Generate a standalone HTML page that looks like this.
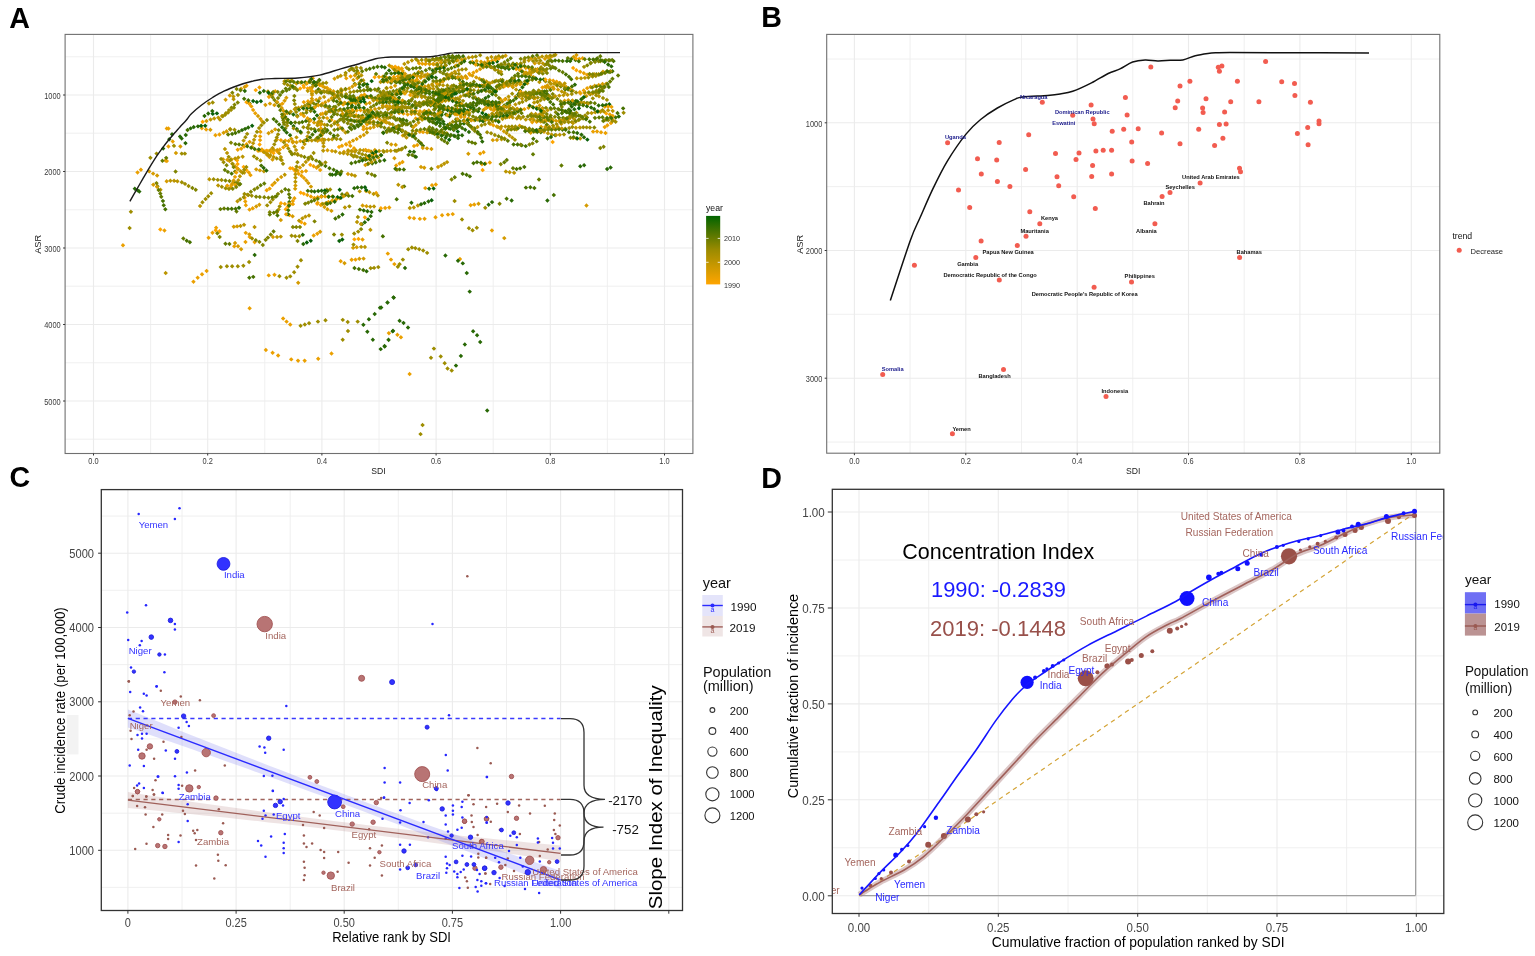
<!DOCTYPE html>
<html><head><meta charset="utf-8"><title>Figure</title>
<style>html,body{margin:0;padding:0;background:#fff;}svg{display:block;font-family:"Liberation Sans", Arial, sans-serif;}</style>
</head><body>
<svg width="1535" height="956" viewBox="0 0 1535 956">
<rect width="1535" height="956" fill="#fff"/>
<text x="9.3" y="27.5" font-size="28.6" fill="#000" font-weight="bold">A</text>
<text x="761.2" y="27.2" font-size="28.6" fill="#000" font-weight="bold">B</text>
<text x="9.6" y="487.2" font-size="28.6" fill="#000" font-weight="bold">C</text>
<text x="761.2" y="487.7" font-size="28.6" fill="#000" font-weight="bold">D</text>
<line x1="150.6" y1="34.4" x2="150.6" y2="453.5" stroke="#eeeeee" stroke-width="0.9"/>
<line x1="264.8" y1="34.4" x2="264.8" y2="453.5" stroke="#eeeeee" stroke-width="0.9"/>
<line x1="379" y1="34.4" x2="379" y2="453.5" stroke="#eeeeee" stroke-width="0.9"/>
<line x1="493.2" y1="34.4" x2="493.2" y2="453.5" stroke="#eeeeee" stroke-width="0.9"/>
<line x1="607.4" y1="34.4" x2="607.4" y2="453.5" stroke="#eeeeee" stroke-width="0.9"/>
<line x1="65.1" y1="56.8" x2="692.9" y2="56.8" stroke="#eeeeee" stroke-width="0.9"/>
<line x1="65.1" y1="133.2" x2="692.9" y2="133.2" stroke="#eeeeee" stroke-width="0.9"/>
<line x1="65.1" y1="209.8" x2="692.9" y2="209.8" stroke="#eeeeee" stroke-width="0.9"/>
<line x1="65.1" y1="286.2" x2="692.9" y2="286.2" stroke="#eeeeee" stroke-width="0.9"/>
<line x1="65.1" y1="362.8" x2="692.9" y2="362.8" stroke="#eeeeee" stroke-width="0.9"/>
<line x1="65.1" y1="439.2" x2="692.9" y2="439.2" stroke="#eeeeee" stroke-width="0.9"/>
<line x1="93.5" y1="34.4" x2="93.5" y2="453.5" stroke="#ebebeb" stroke-width="1.1"/>
<line x1="207.7" y1="34.4" x2="207.7" y2="453.5" stroke="#ebebeb" stroke-width="1.1"/>
<line x1="321.9" y1="34.4" x2="321.9" y2="453.5" stroke="#ebebeb" stroke-width="1.1"/>
<line x1="436.1" y1="34.4" x2="436.1" y2="453.5" stroke="#ebebeb" stroke-width="1.1"/>
<line x1="550.3" y1="34.4" x2="550.3" y2="453.5" stroke="#ebebeb" stroke-width="1.1"/>
<line x1="664.5" y1="34.4" x2="664.5" y2="453.5" stroke="#ebebeb" stroke-width="1.1"/>
<line x1="65.1" y1="95" x2="692.9" y2="95" stroke="#ebebeb" stroke-width="1.1"/>
<line x1="65.1" y1="171.5" x2="692.9" y2="171.5" stroke="#ebebeb" stroke-width="1.1"/>
<line x1="65.1" y1="248" x2="692.9" y2="248" stroke="#ebebeb" stroke-width="1.1"/>
<line x1="65.1" y1="324.5" x2="692.9" y2="324.5" stroke="#ebebeb" stroke-width="1.1"/>
<line x1="65.1" y1="401" x2="692.9" y2="401" stroke="#ebebeb" stroke-width="1.1"/>
<g transform="rotate(45)" stroke-linecap="square" stroke-width="3.1" fill="none">
<path stroke="#ffa500" d="M419.8 -81.3h.1M397.1 -266.8h.1M275.5 48.9h.1M362.3 -82.1h.1M246.5 -102.0h.1M325.8 -87.7h.1M324.1 -86.2h.1M274.8 -149.7h.1M276.5 -153.2h.1M284.0 -52.0h.1M457.2 -357.9h.1M343.6 -135.8h.1M453.3 -357.2h.1M368.4 -80.1h.1M343.6 -234.4h.1M324.2 -168.3h.1M296.1 -82.6h.1M290.3 -54.2h.1M281.0 -54.1h.1M333.2 -170.4h.1M301.6 -85.1h.1M319.4 -210.3h.1M318.7 8.3h.1M415.9 -321.1h.1M385.1 -250.3h.1M283.3 -164.2h.1M294.4 -54.0h.1M285.7 -81.4h.1M396.9 -263.4h.1M380.5 -233.5h.1M347.4 -231.1h.1M350.0 -54.1h.1M508.8 -348.4h.1M275.1 -154.2h.1M330.0 -87.7h.1"/>
<path stroke="#eba000" d="M480.9 -309.5h.1M443.6 -135.6h.1M434.9 -67.8h.1M276.3 -72.4h.1M433.7 -167.7h.1M394.5 41.5h.1M448.0 54.7h.1M375.5 -218.4h.1M287.0 -142.6h.1M291.9 -29.4h.1M503.0 -352.2h.1M336.8 51.1h.1M350.8 -144.6h.1M352.4 -220.2h.1M328.1 -218.5h.1M464.7 -160.4h.1M372.4 -227.8h.1M390.0 -203.7h.1M259.5 -125.9h.1M480.0 -190.7h.1M453.5 -94.9h.1M479.0 -347.6h.1M369.1 -207.3h.1M434.1 -258.9h.1M430.0 24.8h.1M554.1 -25.2h.1M315.8 -31.0h.1M337.5 -88.9h.1M337.4 -229.8h.1M435.4 59.5h.1M335.9 62.4h.1M423.7 -325.4h.1M333.9 -88.3h.1M291.2 -41.1h.1M461.3 -231.4h.1M446.6 -324.0h.1M311.7 -139.8h.1M347.0 -142.7h.1M462.6 -289.9h.1M322.9 -188.0h.1M445.4 -332.1h.1M449.5 -234.3h.1M222.1 -22.1h.1M346.0 -256.0h.1M508.4 -142.1h.1M510.5 -39.4h.1M349.4 -217.8h.1M293.3 -169.2h.1M358.8 -80.9h.1M331.1 -220.8h.1M349.0 -258.4h.1M330.2 -174.1h.1M276.5 -165.8h.1M339.5 -205.1h.1M414.9 -293.2h.1M324.6 -190.8h.1M347.4 -171.5h.1M344.0 -9.0h.1M427.1 -271.0h.1M388.3 -55.3h.1M356.7 -52.5h.1M371.2 -93.0h.1M422.8 -326.1h.1M419.7 -323.7h.1M346.6 -142.6h.1M260.4 86.5h.1M477.8 -187.7h.1M362.4 -82.4h.1M443.3 -288.8h.1M348.4 -165.5h.1M296.8 -169.9h.1M323.1 -54.1h.1M339.2 -104.2h.1M351.2 -8.8h.1M324.9 -216.4h.1M313.8 8.2h.1M322.3 -213.6h.1M412.3 -291.1h.1M324.6 -28.2h.1M388.4 0.2h.1M323.4 -61.7h.1M353.7 -245.9h.1M515.3 -351.3h.1M314.8 -147.8h.1M374.4 -156.3h.1M374.0 -86.3h.1M515.0 -329.2h.1M208.8 -27.1h.1M460.0 -92.9h.1M377.7 -290.4h.1M420.1 -298.4h.1M230.5 -3.5h.1M445.3 -321.7h.1M349.1 -182.8h.1M389.0 -250.6h.1M337.1 -172.3h.1M294.9 -81.7h.1M451.3 -335.9h.1M425.7 -87.0h.1M328.1 -232.3h.1M342.5 -105.2h.1M336.1 56.6h.1M297.7 -54.0h.1M369.4 -253.6h.1M425.5 -56.2h.1M381.9 -237.6h.1M417.0 -318.0h.1M344.9 -138.7h.1M259.2 -130.1h.1M348.7 -240.8h.1M315.6 20.6h.1M337.3 -95.4h.1M396.5 -251.9h.1M437.4 -260.2h.1M347.8 -146.5h.1M397.6 -192.5h.1M303.6 -92.1h.1M245.2 -121.6h.1M438.6 -177.7h.1M355.1 -79.4h.1M402.4 -129.5h.1M294.5 -79.4h.1M231.8 -4.1h.1M233.3 -52.0h.1M390.8 -305.0h.1M465.6 -92.1h.1M383.9 -279.7h.1M351.4 -62.8h.1M300.9 -53.3h.1M289.1 -75.8h.1M371.4 -155.6h.1M335.8 -210.9h.1M399.1 -170.1h.1M318.9 -28.7h.1M512.1 -350.3h.1M280.3 -164.0h.1M346.0 -255.5h.1M376.7 -93.2h.1M294.3 -97.1h.1M447.1 -138.4h.1M471.4 -300.8h.1M348.3 -68.0h.1M443.7 -307.6h.1M468.7 -284.7h.1M219.6 20.4h.1M341.1 -251.6h.1M319.0 -149.5h.1M219.1 24.7h.1M289.4 -146.2h.1M323.0 -150.6h.1M398.2 -166.9h.1M375.0 -89.4h.1M343.1 -207.2h.1M344.2 -174.4h.1M234.9 -113.7h.1M517.7 -44.3h.1M365.5 -204.9h.1M283.4 -165.4h.1M475.1 -344.8h.1M371.6 -226.3h.1M326.6 -190.6h.1M476.4 -344.3h.1M375.8 -266.8h.1M385.2 -279.4h.1M522.2 -334.1h.1M368.0 -81.2h.1M362.1 -202.2h.1M396.0 -189.5h.1M411.1 -245.8h.1M344.6 -2.5h.1M451.6 -142.1h.1M275.6 -65.4h.1M387.2 -286.9h.1"/>
<path stroke="#d59b00" d="M340.1 -77.7h.1M352.1 -211.6h.1M454.6 -333.3h.1M328.9 -167.6h.1M264.1 -117.6h.1M449.1 -263.5h.1M373.0 -243.2h.1M430.8 -289.2h.1M275.9 -48.4h.1M232.6 -16.2h.1M343.6 -227.5h.1M332.2 -185.5h.1M449.9 -297.5h.1M335.7 -179.7h.1M345.2 -195.9h.1M471.6 -287.0h.1M337.8 -181.6h.1M230.0 -95.0h.1M403.5 -254.9h.1M524.9 -188.2h.1M449.3 -326.2h.1M327.7 -7.6h.1M450.5 -269.2h.1M483.0 -300.8h.1M310.3 -151.1h.1M358.6 -270.6h.1M307.9 -197.3h.1M311.8 -137.5h.1M252.0 -64.2h.1M478.4 -307.7h.1M390.2 -62.5h.1M287.8 -153.5h.1M295.7 -30.8h.1M304.2 -63.3h.1M308.7 -135.4h.1M286.0 -103.1h.1M452.6 -329.4h.1M383.2 -216.0h.1M428.2 -322.1h.1M393.9 -123.7h.1M310.4 -188.0h.1M379.0 -221.6h.1M254.0 -71.5h.1M424.9 -74.4h.1M395.5 -314.8h.1M290.2 -77.4h.1M444.9 -263.0h.1M424.4 -320.1h.1M306.9 -175.4h.1M471.2 -285.5h.1M470.5 -299.9h.1M379.8 -237.1h.1M307.5 -146.0h.1M272.0 -123.7h.1M378.5 -221.7h.1M270.3 -45.1h.1M311.9 -155.0h.1M307.7 -106.3h.1M376.2 -145.1h.1M290.2 -150.8h.1M352.3 -171.2h.1M415.1 -247.4h.1M383.7 -296.5h.1M298.3 -79.3h.1M452.1 -301.0h.1M271.4 -99.6h.1M382.2 -177.4h.1M333.4 -194.2h.1M374.3 -239.2h.1M360.4 -224.2h.1M401.7 -213.7h.1M302.3 -157.7h.1M325.1 -166.2h.1M422.9 -333.3h.1M325.5 -5.0h.1M354.1 -43.0h.1M280.1 -48.5h.1M386.8 -298.5h.1M324.5 -178.5h.1M349.9 -178.2h.1M385.3 -274.8h.1M380.4 -100.0h.1M448.0 -324.6h.1M420.9 -319.2h.1M376.6 -244.8h.1M461.1 -297.2h.1M281.4 -156.8h.1M404.0 -216.2h.1M390.1 -298.4h.1M337.4 -195.7h.1M432.5 -333.7h.1M340.0 -218.7h.1M450.3 -252.4h.1M381.7 -234.1h.1M350.3 -168.3h.1M450.8 -326.6h.1M439.9 -74.2h.1M472.3 -293.0h.1M385.5 -256.3h.1M309.8 -151.0h.1M338.0 5.6h.1M473.6 -303.2h.1M371.2 -260.3h.1M354.8 -249.8h.1M430.0 -350.1h.1M482.4 -312.8h.1M312.6 -154.9h.1M370.0 -280.5h.1M470.5 -364.8h.1M371.2 -159.0h.1M334.4 -150.6h.1M455.3 -303.5h.1M300.4 -171.3h.1M337.8 -125.3h.1M240.5 -57.0h.1M264.4 -100.4h.1M370.7 -285.1h.1M359.0 -264.8h.1M268.5 -150.5h.1M292.1 -180.9h.1M518.7 -348.5h.1M373.9 -96.2h.1M427.0 -77.4h.1M320.3 -134.1h.1M261.8 -113.5h.1M425.5 -323.1h.1M385.6 -225.1h.1M435.3 -283.8h.1M401.1 -280.3h.1M233.2 -107.7h.1M238.9 22.2h.1M282.2 -74.3h.1M321.3 -176.9h.1M419.8 -319.0h.1M327.4 -229.7h.1M481.2 -359.9h.1M297.4 -85.1h.1M348.2 -216.5h.1M453.5 -271.7h.1M342.3 -188.1h.1M424.2 -270.1h.1M446.5 -368.7h.1M477.8 -291.5h.1M318.5 -109.6h.1M342.2 -75.2h.1M295.8 -168.3h.1M425.2 -304.6h.1M381.3 -225.1h.1M253.1 -67.4h.1M456.3 -278.6h.1M275.5 -122.9h.1M428.9 -274.4h.1M326.7 -129.7h.1M369.0 -123.0h.1M294.2 -153.0h.1M472.6 -331.0h.1M284.0 -95.7h.1M365.7 -238.5h.1M338.2 -181.7h.1M426.4 -279.9h.1M348.4 -175.0h.1M342.3 5.8h.1M410.3 -199.7h.1M382.3 -223.1h.1M306.5 -193.3h.1M338.2 -214.7h.1M340.1 -224.6h.1M380.4 -272.0h.1M359.0 -236.6h.1M283.8 -48.6h.1M457.9 -331.2h.1M461.8 -338.9h.1M458.7 -338.0h.1M398.9 -211.4h.1M399.4 -277.2h.1M344.3 -89.0h.1M487.3 -355.7h.1M368.6 -284.3h.1M424.9 -276.8h.1M379.5 -83.6h.1M356.4 -185.5h.1M355.8 -142.2h.1M346.8 -245.1h.1M477.0 -375.7h.1M353.8 -264.2h.1M276.4 -51.0h.1M394.6 -283.3h.1M352.9 -184.2h.1M473.2 -303.4h.1M420.2 -250.3h.1M385.6 -293.6h.1M409.7 -247.1h.1M283.0 -123.1h.1M373.4 -213.0h.1M303.9 -173.7h.1M361.4 -234.0h.1M429.3 -275.9h.1M456.1 -307.0h.1M380.7 -189.0h.1M417.8 -248.0h.1M404.4 -244.1h.1M307.2 -107.1h.1M378.7 -174.5h.1M301.5 -79.5h.1M429.6 -57.5h.1M287.3 -167.0h.1M468.1 -296.2h.1"/>
<path stroke="#bb9500" d="M438.0 -280.5h.1M469.2 -340.9h.1M383.9 -246.6h.1M313.6 -200.1h.1M307.7 -65.5h.1M498.2 -338.4h.1M484.4 -309.3h.1M477.5 -373.7h.1M407.9 -293.9h.1M501.9 -344.4h.1M355.2 -141.5h.1M421.9 -340.2h.1M374.4 -293.7h.1M429.8 -198.3h.1M321.6 -229.0h.1M362.2 -265.8h.1M456.6 -273.7h.1M481.4 -342.0h.1M344.6 -191.4h.1M410.1 -221.7h.1M441.3 -275.9h.1M304.5 -82.5h.1M395.6 -269.4h.1M368.2 -59.4h.1M343.6 -111.6h.1M233.4 -64.4h.1M369.2 -243.7h.1M474.2 -291.2h.1M351.9 -199.4h.1M468.6 -358.5h.1M317.5 -161.1h.1M250.9 4.7h.1M398.2 -243.8h.1M487.8 -369.5h.1M482.4 -346.5h.1M338.3 -252.5h.1M235.2 -95.0h.1M414.6 -287.6h.1M286.5 -154.5h.1M412.3 -151.0h.1M298.4 -84.3h.1M345.1 -48.9h.1M372.2 -125.1h.1M339.6 -203.2h.1M284.7 -155.8h.1M466.2 -355.5h.1M331.0 -133.6h.1M301.0 -81.4h.1M338.0 -150.6h.1M332.1 -85.7h.1M314.5 -158.2h.1M431.3 -267.6h.1M389.8 -264.1h.1M431.0 -271.0h.1M437.7 -267.0h.1M425.8 -244.5h.1M304.2 -178.1h.1M397.0 -243.5h.1M317.2 -118.7h.1M233.3 -96.8h.1M392.9 -266.9h.1M405.3 -128.9h.1M440.8 -150.1h.1M480.7 -311.1h.1M357.7 -191.0h.1M462.3 -292.7h.1M432.9 -296.0h.1M462.4 -300.5h.1M391.8 -238.0h.1M418.7 -273.7h.1M369.5 -232.0h.1M427.4 -247.9h.1M401.2 -127.0h.1M366.6 -245.4h.1M372.1 -290.7h.1M413.1 -328.4h.1M306.4 -169.9h.1M278.5 -80.8h.1M353.0 -165.8h.1M385.4 -260.3h.1M434.6 -285.9h.1M438.3 -290.6h.1M369.1 -62.8h.1M465.7 -331.1h.1M384.6 -266.5h.1M361.3 -273.7h.1M390.5 -97.2h.1M287.1 4.2h.1M433.6 -274.7h.1M431.7 -278.8h.1M333.9 -248.5h.1M313.0 -135.9h.1M484.9 -304.2h.1M427.4 -287.6h.1M454.8 -258.9h.1M329.1 -213.7h.1M335.1 -193.0h.1M489.8 -321.8h.1M435.2 -298.9h.1M299.2 -80.1h.1M375.2 -228.5h.1M441.9 -262.3h.1M304.5 -173.5h.1M512.5 -342.5h.1M357.9 -145.3h.1M444.0 -265.1h.1M358.7 -186.2h.1M375.3 -126.7h.1M424.4 -99.4h.1M425.0 -255.8h.1M367.1 -249.9h.1M328.9 -217.3h.1M364.3 -241.7h.1M335.4 -231.0h.1M384.6 -247.8h.1M315.7 -117.9h.1M450.2 -305.1h.1M397.1 -125.3h.1M352.2 -267.6h.1M508.2 -312.3h.1M287.8 -48.8h.1M491.1 -300.5h.1M393.8 -299.3h.1M459.5 -264.9h.1M459.5 -279.8h.1M427.7 -326.1h.1M363.3 -150.8h.1M386.2 -243.6h.1M351.0 -236.9h.1M426.9 -324.8h.1M486.1 -317.8h.1M389.5 -300.8h.1M293.3 -184.4h.1M423.4 -317.9h.1M324.9 -229.6h.1M337.4 -80.3h.1M430.5 -329.3h.1M445.5 -279.4h.1M424.2 -301.0h.1M388.8 -220.9h.1M332.4 -244.5h.1M330.7 -101.7h.1M464.0 -305.6h.1M500.3 -341.5h.1M289.1 -137.8h.1M416.5 -331.1h.1M380.4 -166.9h.1M438.6 -272.7h.1M333.3 -136.4h.1M346.4 -194.7h.1M438.9 -299.4h.1M383.5 -217.3h.1M260.5 -146.9h.1M368.8 -186.7h.1M335.9 -196.7h.1M368.8 -263.8h.1M331.5 -13.6h.1M296.8 -37.1h.1M493.0 -321.2h.1M348.4 -197.7h.1M351.0 -231.5h.1M366.6 -241.7h.1M285.4 -118.4h.1M297.7 -160.6h.1M459.3 -290.4h.1M389.3 -177.9h.1M268.6 -52.4h.1M313.4 -137.6h.1M430.2 -311.0h.1M299.0 -168.7h.1M358.2 -203.1h.1M371.5 -267.6h.1M374.8 -161.3h.1M462.8 -301.3h.1M409.7 -255.3h.1M467.7 -282.3h.1M428.3 -267.7h.1M313.9 -120.9h.1M474.9 -306.2h.1M278.3 -54.2h.1M302.9 -169.0h.1M458.2 -340.3h.1M459.3 -298.2h.1M400.5 -246.2h.1M294.8 -138.8h.1M383.0 -213.8h.1M353.9 -233.0h.1M485.2 -294.9h.1M282.3 -60.8h.1M347.5 -183.9h.1M332.3 -125.3h.1M345.0 -232.8h.1M401.7 -286.4h.1M355.6 -225.2h.1M427.2 -264.0h.1M387.2 -173.8h.1M343.8 -197.7h.1M398.1 -248.1h.1M331.1 -240.7h.1M463.2 -352.5h.1M388.1 -246.4h.1M358.3 -143.7h.1M363.4 -28.3h.1M439.3 -271.2h.1M287.3 -134.9h.1M289.1 -116.6h.1M431.5 -354.0h.1M372.1 -226.4h.1M294.7 -50.5h.1M419.8 -337.0h.1M294.5 -187.4h.1M431.8 -314.0h.1M271.6 -72.8h.1M253.6 2.7h.1M354.2 -238.4h.1M439.2 -145.9h.1M427.9 -291.3h.1M397.6 -300.8h.1M378.8 -156.0h.1M357.3 -204.2h.1M340.5 -19.5h.1M409.1 -249.4h.1M365.8 -31.2h.1M357.2 -187.4h.1M381.4 -240.4h.1M376.4 -242.4h.1M433.7 -282.4h.1M330.8 -105.2h.1M405.3 -287.6h.1M440.7 -303.0h.1M331.3 -230.5h.1M308.8 -202.3h.1M463.1 -327.9h.1M401.9 -302.3h.1M325.4 -186.2h.1"/>
<path stroke="#9e8d00" d="M344.9 32.7h.1M387.8 -176.1h.1M417.9 -304.3h.1M277.3 -161.4h.1M437.3 -278.2h.1M443.3 -306.2h.1M293.7 -69.6h.1M275.9 -157.8h.1M432.8 -301.9h.1M384.5 -254.8h.1M335.0 -222.9h.1M490.7 -318.2h.1M324.3 -127.1h.1M365.3 -96.9h.1M399.7 -308.5h.1M222.9 -77.9h.1M415.8 -290.9h.1M359.1 -206.2h.1M297.5 -166.6h.1M400.4 -15.5h.1M370.7 -262.3h.1M460.2 -365.7h.1M402.4 -274.2h.1M398.9 -6.2h.1M466.3 -116.2h.1M348.7 27.8h.1M441.5 -282.5h.1M340.5 -255.8h.1M239.3 -22.1h.1M557.7 -51.8h.1M482.5 -2.1h.1M311.3 -178.2h.1M438.8 -305.8h.1M452.1 -314.5h.1M493.9 -324.3h.1M350.0 -185.9h.1M324.9 -95.6h.1M335.3 -239.6h.1M429.1 -331.3h.1M294.4 -95.3h.1M337.2 -226.5h.1M346.0 -177.0h.1M369.6 -257.9h.1M268.7 -43.9h.1M356.4 20.1h.1M429.1 -251.9h.1M314.9 -185.5h.1M398.8 -271.3h.1M481.3 -305.8h.1M365.9 -152.7h.1M343.7 -201.8h.1M443.2 -328.2h.1M312.8 -182.4h.1M332.0 -161.5h.1M239.8 -84.1h.1M395.3 -260.7h.1M360.4 -274.7h.1M339.1 -228.4h.1M311.8 -145.6h.1M502.4 -322.4h.1M507.3 -327.0h.1M341.2 -229.0h.1M343.1 -259.4h.1M295.4 -28.3h.1M382.4 -252.2h.1M360.1 -213.3h.1M353.6 -203.6h.1M317.0 -99.8h.1M321.9 -131.1h.1M478.2 -298.3h.1M442.8 -313.1h.1M520.7 -361.2h.1M468.4 -101.3h.1M488.3 -315.6h.1M286.2 -0.1h.1M430.1 -335.1h.1M478.6 -348.2h.1M571.2 -57.6h.1M370.5 -192.9h.1M499.7 -358.5h.1M286.0 -8.5h.1M426.3 -276.5h.1M402.9 -248.5h.1M420.2 -267.9h.1M288.9 -24.8h.1M292.7 -26.4h.1M456.3 -78.6h.1M428.3 -349.6h.1M577.0 -55.9h.1M309.8 -170.0h.1M328.9 -170.6h.1M290.3 -140.9h.1M383.7 -221.4h.1M424.9 -339.2h.1M291.1 -144.2h.1M453.0 -318.1h.1M470.9 -361.3h.1M386.5 -257.5h.1M420.1 -333.8h.1M407.6 -75.8h.1M378.5 -300.5h.1M428.4 -295.9h.1M391.2 -299.0h.1M337.5 -226.7h.1M323.3 -165.9h.1M337.7 -166.9h.1M392.4 -312.9h.1M310.7 -28.9h.1M438.1 -281.6h.1M469.9 -92.7h.1M453.9 -275.0h.1M384.3 -232.8h.1M295.9 -192.9h.1M340.0 -225.8h.1M376.4 -296.5h.1M498.2 -176.1h.1M293.5 -49.3h.1M390.9 -270.7h.1M336.1 -231.5h.1M456.6 -3.7h.1M399.4 -300.8h.1M370.5 -250.8h.1M277.8 -24.3h.1M503.9 -348.2h.1M373.4 -191.4h.1M217.9 5.2h.1M335.0 -223.4h.1M447.0 10.0h.1M484.0 -350.6h.1M431.0 -339.2h.1M402.4 -311.7h.1M391.8 -308.6h.1M288.0 -159.0h.1M446.8 -330.4h.1M291.8 -114.2h.1M355.1 -233.1h.1M333.8 -51.8h.1M450.8 -332.8h.1M304.7 -99.4h.1M380.5 -216.9h.1M281.1 -26.8h.1M435.9 -274.1h.1M449.2 -311.3h.1M416.3 -300.6h.1M306.6 -130.0h.1M296.6 -197.3h.1M417.0 -89.5h.1M440.0 -294.3h.1M444.6 -284.0h.1M432.7 -274.8h.1M334.9 -164.3h.1M392.8 -2.3h.1M404.7 -267.1h.1M339.8 -200.3h.1M380.4 -219.8h.1M368.5 -254.0h.1M313.1 -141.3h.1M272.6 -50.8h.1M563.6 -59.6h.1M332.9 -220.6h.1M355.7 -178.1h.1M488.7 -349.6h.1M280.3 -48.6h.1M332.1 -220.4h.1M359.7 -209.5h.1M362.2 -210.1h.1M242.3 57.2h.1M367.4 -99.5h.1M393.5 -312.8h.1M292.2 -147.5h.1M410.5 -297.5h.1M472.6 -120.2h.1M346.9 -205.1h.1M426.4 -310.1h.1M469.1 -118.2h.1M219.3 -2.1h.1M487.3 -327.8h.1M260.1 -142.0h.1M354.6 -269.9h.1M493.8 -303.7h.1M485.1 -318.9h.1M342.2 -174.9h.1M308.2 -155.8h.1M396.8 -28.8h.1M441.1 -309.8h.1M369.4 -155.2h.1M515.0 -345.2h.1M389.4 -179.2h.1M315.9 -84.3h.1M413.4 -291.1h.1M497.0 -171.3h.1M361.9 -145.6h.1M351.7 -231.9h.1M453.1 -311.3h.1M488.9 -354.2h.1M466.8 -312.7h.1M285.7 -132.8h.1M443.3 -279.2h.1M404.9 -277.0h.1M334.1 -43.7h.1M327.8 -129.8h.1M384.5 -229.2h.1M375.8 -277.6h.1M365.3 -147.1h.1M440.3 -303.5h.1M604.3 9.6h.1M469.3 -95.8h.1M326.4 -164.2h.1M332.6 -230.8h.1M397.6 -251.5h.1M357.0 -205.5h.1M430.8 -352.5h.1M330.6 -202.6h.1M360.4 -139.2h.1M423.3 -274.9h.1M421.8 -303.9h.1M263.1 -149.4h.1M470.4 -284.7h.1M298.2 -200.7h.1M422.9 -77.0h.1M460.2 -322.9h.1M486.1 -324.2h.1M340.8 -231.6h.1M424.2 -307.1h.1M282.0 -134.9h.1M436.0 -278.1h.1M417.1 -294.3h.1M406.3 -234.1h.1M293.2 -164.1h.1M290.9 -162.2h.1M324.9 -155.3h.1M400.4 -267.2h.1M304.1 -132.8h.1M292.6 -52.7h.1M495.6 -335.7h.1M380.4 -256.4h.1M296.0 -91.9h.1M427.8 -329.7h.1M376.7 -272.3h.1M485.9 -357.5h.1M374.0 -270.2h.1M357.4 -240.1h.1M361.4 9.1h.1M490.0 -196.2h.1M493.0 -312.0h.1"/>
<path stroke="#808400" d="M454.0 -333.8h.1M361.8 -260.5h.1M461.5 -280.9h.1M329.6 -166.2h.1M285.2 -115.3h.1M307.6 -127.0h.1M398.7 -306.2h.1M416.7 -252.2h.1M306.7 -118.9h.1M455.5 -290.8h.1M457.3 -324.4h.1M347.7 -264.3h.1M441.7 -309.4h.1M377.0 -203.0h.1M406.8 -238.1h.1M356.7 -267.4h.1M355.4 -226.4h.1M364.6 -177.2h.1M439.8 -280.1h.1M334.5 -143.0h.1M344.4 -216.8h.1M305.5 -167.1h.1M459.6 -320.8h.1M342.4 -233.3h.1M273.6 -103.9h.1M308.0 -199.4h.1M303.5 -173.9h.1M267.4 -145.0h.1M373.5 -235.2h.1M357.4 -21.4h.1M410.6 -281.1h.1M371.9 -147.1h.1M350.1 -205.5h.1M328.2 -144.5h.1M367.6 -46.6h.1M329.5 -50.0h.1M403.7 -301.3h.1M402.1 -212.5h.1M431.4 -271.6h.1M362.3 -206.5h.1M380.3 -193.2h.1M323.6 -196.3h.1M402.0 -70.4h.1M342.7 -184.2h.1M424.4 -185.7h.1M369.2 -197.5h.1M492.5 -321.4h.1M296.2 -137.0h.1M433.2 -278.0h.1M308.3 -174.3h.1M498.1 -332.0h.1M301.6 -152.7h.1M258.1 -124.2h.1M368.2 -262.6h.1M453.0 -269.8h.1M489.1 -365.7h.1M341.4 -232.6h.1M467.2 -306.0h.1M480.1 -321.8h.1M350.7 -11.0h.1M445.6 -315.3h.1M365.3 -196.9h.1M472.8 -317.8h.1M268.9 -3.1h.1M325.9 -198.6h.1M313.6 -131.0h.1M489.1 -361.6h.1M339.9 -230.6h.1M268.3 -123.2h.1M342.0 -173.7h.1M313.3 -165.6h.1M347.1 -233.3h.1M343.7 -236.6h.1M369.3 -219.6h.1M384.1 -199.3h.1M432.1 -243.6h.1M287.5 -44.9h.1M391.7 -273.5h.1M381.6 -254.4h.1M385.5 -224.5h.1M314.3 -176.6h.1M290.3 -34.3h.1M435.8 -331.7h.1M313.0 -41.8h.1M245.4 -2.9h.1M378.9 -65.9h.1M347.9 -264.4h.1M446.8 -308.0h.1M372.6 -51.6h.1M333.6 -59.5h.1M365.6 -280.0h.1M303.4 -168.5h.1M320.1 -42.0h.1M373.6 -243.0h.1M358.1 -270.6h.1M243.0 20.3h.1M366.3 -213.9h.1M460.1 -307.1h.1M479.3 -295.9h.1M430.5 -317.0h.1M375.7 -236.7h.1M497.3 -209.2h.1M419.9 -301.8h.1M488.8 -357.8h.1M300.3 -200.5h.1M293.9 -36.8h.1M333.2 -139.0h.1M298.6 -167.9h.1M350.0 -186.4h.1M372.3 -222.0h.1M339.4 -208.5h.1M457.7 -335.4h.1M352.9 -209.5h.1M366.6 -216.1h.1M333.3 -108.5h.1M361.3 -221.4h.1M363.7 -249.0h.1M461.1 -296.6h.1M361.4 -269.1h.1M357.3 -25.6h.1M436.8 -278.6h.1M317.0 -188.2h.1M471.1 -307.7h.1M472.4 -313.6h.1M461.4 -369.0h.1M407.8 -279.3h.1M361.2 -74.6h.1M261.5 -124.0h.1M483.5 -324.2h.1M315.9 -156.9h.1M337.5 -205.1h.1M362.1 -181.5h.1M370.0 -49.0h.1M496.1 -328.5h.1M431.2 -346.7h.1M448.9 -256.2h.1M359.8 -71.7h.1M441.4 -286.1h.1M361.8 -219.5h.1M361.8 -225.3h.1M463.5 -303.9h.1M410.6 -320.3h.1M487.1 -322.2h.1M296.9 -38.4h.1M366.2 -237.5h.1M393.6 -213.7h.1M294.5 -133.7h.1M298.9 -150.8h.1M455.5 -320.4h.1M417.9 -283.3h.1M488.2 -364.0h.1M338.1 -186.4h.1M462.2 -373.4h.1M378.8 -247.1h.1M441.3 -313.2h.1M477.3 -320.2h.1M340.7 -40.7h.1M390.6 -182.5h.1M464.5 -376.9h.1M400.7 -312.7h.1M370.2 -221.8h.1M341.7 -206.2h.1M485.4 -321.2h.1M357.3 -250.8h.1M239.8 -87.6h.1M312.3 -158.0h.1M392.8 -277.3h.1M280.8 -164.1h.1M477.9 -275.2h.1M462.3 -309.8h.1M349.0 -222.0h.1M376.6 -191.6h.1M340.8 -210.6h.1M339.5 -232.3h.1M389.0 -205.8h.1M273.8 -146.5h.1M455.0 -258.4h.1M329.1 -191.6h.1M306.8 -170.7h.1M457.7 -317.9h.1M356.7 -211.1h.1M442.5 -310.6h.1M361.4 -194.9h.1M230.3 -104.4h.1M358.8 -192.8h.1M383.8 -194.3h.1M319.6 -143.0h.1M375.0 -199.0h.1M479.7 -333.6h.1M345.5 -240.8h.1M489.5 -325.1h.1M350.0 -207.6h.1M371.2 -264.4h.1M477.0 -293.7h.1M311.6 -156.5h.1M440.4 -304.3h.1M359.3 -234.7h.1M319.3 -157.6h.1M366.1 -209.0h.1M304.0 -200.2h.1M386.1 -139.5h.1M438.4 -335.1h.1M275.9 -140.3h.1M400.4 -278.5h.1M398.0 -211.5h.1M264.2 -62.4h.1M326.3 -47.4h.1M335.3 -199.8h.1M325.5 -160.2h.1M381.3 -250.7h.1M415.3 -295.2h.1M380.7 -40.0h.1M432.8 -320.0h.1M391.5 -262.8h.1M409.7 -295.0h.1M336.4 -160.3h.1M355.0 -207.2h.1M406.9 -302.1h.1M282.4 -168.7h.1M345.8 -187.4h.1M529.1 -319.8h.1M309.9 -173.9h.1M329.6 -106.4h.1M467.8 -381.2h.1"/>
<path stroke="#637b00" d="M358.0 -254.1h.1M317.8 -163.3h.1M394.4 -299.8h.1M375.4 -242.9h.1M330.2 -147.5h.1M437.3 -234.6h.1M490.6 -362.0h.1M349.1 -207.2h.1M316.8 -198.5h.1M340.4 -111.4h.1M446.9 -196.2h.1M420.8 -326.2h.1M341.7 -199.2h.1M396.8 -302.3h.1M327.0 -158.3h.1M360.9 -230.9h.1M445.1 -287.5h.1M470.4 -384.5h.1M445.2 -345.4h.1M344.6 -65.1h.1M445.6 -314.5h.1M380.6 -214.7h.1M425.5 -274.8h.1M337.4 -202.4h.1M385.9 -264.8h.1M328.3 -167.2h.1M316.7 -17.7h.1M404.2 -220.5h.1M467.8 -302.4h.1M342.4 -246.2h.1M298.2 -145.2h.1M378.5 -236.3h.1M470.1 -284.2h.1M281.1 -161.8h.1M316.9 -155.3h.1M448.7 -288.8h.1M341.4 -208.1h.1M320.3 -181.6h.1M376.0 -144.1h.1M228.5 -1.2h.1M274.5 -69.1h.1M442.6 -360.4h.1M485.5 -339.7h.1M402.3 -319.9h.1M383.2 -257.5h.1M493.5 -347.6h.1M417.5 -154.0h.1M349.1 -247.3h.1M266.6 -138.5h.1M329.0 -165.6h.1M357.0 -29.8h.1M310.2 -191.6h.1M383.3 -237.1h.1M399.8 -263.7h.1M379.3 -104.5h.1M434.4 -233.0h.1M473.8 -388.6h.1M456.9 -275.5h.1M417.5 -324.2h.1M292.3 -118.9h.1M442.3 -307.2h.1M364.7 -195.2h.1M422.0 -257.2h.1M400.4 -216.6h.1M358.0 -228.6h.1M369.2 -199.0h.1M391.6 -195.9h.1M372.2 -185.9h.1M312.4 -198.5h.1M444.3 -310.7h.1M360.8 -278.7h.1M397.5 -214.4h.1M378.2 -206.6h.1M318.1 -213.6h.1M400.7 -216.9h.1M417.4 -306.7h.1M383.0 -240.6h.1M463.9 -279.4h.1M358.6 -257.3h.1M387.6 -195.1h.1M339.2 -205.3h.1M389.3 -140.8h.1M382.1 -106.3h.1M334.5 -196.0h.1M339.7 -192.7h.1M344.9 -249.0h.1M434.1 -274.2h.1M338.0 -174.5h.1M371.4 -193.0h.1M420.5 -312.7h.1M487.8 -342.3h.1M327.7 -139.3h.1M463.6 -381.2h.1M481.5 -314.8h.1M374.4 -87.1h.1M416.4 -269.0h.1M343.2 -180.9h.1M396.8 -247.6h.1M406.2 -284.2h.1M276.1 -120.3h.1M471.3 -241.9h.1M465.0 -338.4h.1M369.2 -189.5h.1M346.1 -238.6h.1M430.8 -343.9h.1M328.3 -163.5h.1M471.9 -287.6h.1M484.3 -301.3h.1M365.8 -267.7h.1M383.7 -254.0h.1M514.0 -280.0h.1M471.8 -317.6h.1M370.2 -189.3h.1M466.9 -300.9h.1M323.5 -196.5h.1M379.1 -229.9h.1M311.7 -160.6h.1M396.7 -268.7h.1M303.7 -8.0h.1M340.3 -243.6h.1M364.2 -280.7h.1M256.4 -66.2h.1M404.4 -215.7h.1M279.1 -38.8h.1M403.4 -255.9h.1M386.3 -256.6h.1M347.5 -223.9h.1M271.9 -122.1h.1M375.1 -187.5h.1M371.4 -145.4h.1M328.2 -171.1h.1M486.0 -267.8h.1M253.1 25.1h.1M468.9 -383.2h.1M347.2 -183.5h.1M295.2 -122.1h.1M450.4 -317.9h.1M331.7 12.9h.1M331.7 -193.8h.1M332.0 -53.0h.1M414.5 -271.4h.1M282.6 -39.6h.1M313.5 -156.6h.1M426.6 -244.7h.1M317.5 -179.0h.1M362.4 -273.1h.1M352.5 -208.1h.1M354.2 -236.8h.1M363.8 -80.7h.1M407.5 -230.6h.1M440.5 -280.4h.1M468.5 -315.5h.1M233.9 -106.2h.1M352.1 -255.3h.1M464.2 -384.7h.1M473.0 -387.7h.1M471.9 -306.0h.1M509.0 -343.1h.1M397.4 -211.5h.1M405.9 -223.6h.1M413.5 -255.6h.1M474.2 -369.1h.1M481.6 -243.8h.1M318.6 -147.4h.1M479.3 -376.2h.1M401.6 -316.3h.1M487.0 -325.9h.1M413.9 -214.4h.1M413.1 -242.6h.1M323.7 -137.8h.1M447.8 -315.6h.1M437.2 -277.4h.1M391.4 -208.9h.1M465.7 -312.7h.1M401.1 -181.9h.1M377.2 -267.0h.1M380.2 -202.0h.1M335.0 -218.0h.1M355.8 -211.1h.1M322.7 -159.6h.1M513.5 -344.5h.1M470.9 -385.8h.1M367.3 -271.1h.1M352.2 -192.7h.1M271.1 -66.9h.1M384.9 -108.0h.1M297.7 -149.7h.1M338.5 -69.7h.1M468.2 -339.6h.1M470.8 -298.4h.1M448.9 -346.8h.1M267.5 -141.7h.1M350.1 -267.2h.1M433.6 -346.9h.1M445.7 -314.2h.1M374.6 -228.6h.1"/>
<path stroke="#467100" d="M475.8 -288.9h.1M373.5 -148.8h.1M428.6 -319.8h.1M405.5 -255.5h.1M517.2 -364.0h.1M343.0 -167.3h.1M384.6 -248.7h.1M411.2 -221.4h.1M447.6 -317.2h.1M407.3 -262.1h.1M444.0 -63.5h.1M403.2 -272.6h.1M376.8 -191.5h.1M425.7 -317.6h.1M466.1 -281.4h.1M340.8 -201.0h.1M379.5 -290.3h.1M315.6 -117.8h.1M387.5 -226.9h.1M284.7 -124.8h.1M339.4 -160.7h.1M469.2 -284.4h.1M388.0 -234.0h.1M425.6 -275.8h.1M258.8 -69.4h.1M414.4 -97.4h.1M405.5 -308.8h.1M383.3 -292.0h.1M431.1 -244.4h.1M380.5 -234.2h.1M465.5 -343.3h.1M498.7 -217.7h.1M382.2 -246.9h.1M316.8 -170.8h.1M412.0 -270.3h.1M264.9 31.1h.1M360.9 -235.3h.1M346.7 -209.3h.1M323.5 -139.4h.1M257.2 26.9h.1M431.1 -282.0h.1M341.4 -224.3h.1M352.6 -82.7h.1M385.2 -235.0h.1M331.9 -140.1h.1M366.5 -96.5h.1M462.9 -336.3h.1M224.5 -40.7h.1M431.9 -285.5h.1M324.9 -198.4h.1M413.2 -238.0h.1M366.1 -88.6h.1M356.4 -195.8h.1M288.3 -162.1h.1M477.0 -390.6h.1M477.3 -329.6h.1M452.6 -320.5h.1M399.3 -237.8h.1M360.9 -280.1h.1M434.4 -295.4h.1M463.6 -380.0h.1M358.5 -277.2h.1M341.6 -228.0h.1M400.7 -241.0h.1M410.5 -234.5h.1M495.7 -308.8h.1M377.1 -249.0h.1M300.0 -127.5h.1M381.6 -232.2h.1M370.8 -281.7h.1M434.6 -244.1h.1M392.0 -233.0h.1M440.2 -61.1h.1M368.1 -238.9h.1M392.6 -241.2h.1M345.8 -183.8h.1M316.1 -125.8h.1M411.7 -219.8h.1M322.6 -135.0h.1M478.5 -321.1h.1M379.4 -253.9h.1M398.6 -305.2h.1M392.8 -86.3h.1M277.7 -109.3h.1M408.3 -315.3h.1M282.3 -169.3h.1M330.3 -220.2h.1M391.1 -236.3h.1M273.9 -157.7h.1M482.6 -322.6h.1M374.8 16.7h.1M324.3 -172.4h.1M456.6 -348.1h.1M417.8 -248.6h.1M293.1 -144.7h.1M370.4 -217.6h.1M342.5 -202.8h.1M491.9 -369.0h.1M283.2 -116.6h.1M368.7 -274.5h.1M377.0 -90.0h.1M268.8 -152.4h.1M434.0 -292.0h.1M339.3 -224.8h.1M366.9 -198.4h.1M396.0 -242.9h.1M388.1 -236.9h.1M400.1 -222.0h.1M489.3 -306.0h.1M402.1 -196.0h.1M338.5 -222.2h.1M410.8 -258.8h.1M355.0 -201.4h.1M449.4 -364.4h.1M242.5 -102.8h.1M303.9 -134.5h.1M425.3 -280.6h.1M413.0 -267.8h.1M286.5 -41.0h.1M396.2 -234.4h.1M347.4 -112.7h.1M413.3 -232.2h.1M474.8 -319.4h.1M385.0 -269.5h.1M362.7 -282.7h.1M314.7 -114.4h.1M388.8 -231.9h.1M461.2 -317.0h.1M402.5 -244.3h.1M302.2 38.2h.1M398.4 -265.3h.1M421.0 -251.5h.1M384.0 -244.3h.1M352.4 -55.2h.1M414.1 -235.8h.1M507.4 -242.6h.1M389.3 -221.5h.1M475.3 -313.7h.1M402.3 -162.8h.1M484.8 -245.8h.1M280.4 -163.6h.1M404.1 -223.9h.1M282.1 -73.1h.1M288.9 -133.8h.1M354.2 -205.2h.1M410.8 -230.1h.1M297.6 -144.2h.1M437.6 -242.8h.1M282.5 -165.7h.1M382.4 -154.7h.1M301.9 -130.8h.1M419.1 -271.3h.1M389.8 -270.8h.1M325.2 -221.3h.1M499.1 -312.0h.1M327.7 -191.1h.1M343.1 -231.0h.1M355.9 -115.9h.1M301.8 -67.6h.1M483.3 -382.7h.1M421.4 -139.6h.1M342.6 -164.0h.1M471.6 -266.2h.1M512.6 -345.8h.1M387.7 -247.4h.1M420.5 -276.2h.1M396.9 -210.2h.1M261.9 -75.8h.1M408.3 -217.5h.1M367.2 -287.7h.1M375.0 -264.9h.1M357.2 -247.6h.1M284.2 -119.1h.1M432.9 -288.6h.1M415.4 -245.7h.1M368.0 -139.8h.1M383.5 -246.1h.1M418.1 -225.4h.1M377.5 -235.3h.1M382.4 -249.2h.1M347.4 -61.7h.1M518.3 -352.3h.1M459.9 -347.9h.1M381.2 -193.0h.1M458.6 -374.8h.1M322.3 -169.5h.1M351.8 -114.0h.1M475.2 -279.0h.1M378.7 -147.6h.1M399.8 -244.6h.1M403.1 -308.3h.1M437.8 -103.6h.1M372.3 -196.7h.1M404.0 -182.8h.1M314.1 -219.7h.1M484.9 -289.2h.1M444.5 -287.1h.1M308.8 -13.5h.1M435.5 -265.2h.1M529.5 -253.7h.1M364.0 -284.6h.1"/>
<path stroke="#286805" d="M226.8 -35.9h.1M357.8 -87.0h.1M404.0 -214.3h.1M443.7 -156.5h.1M434.2 -147.6h.1M428.7 -277.4h.1M520.1 -56.9h.1M342.3 -168.0h.1M475.8 -332.4h.1M363.8 -117.2h.1M446.3 -359.9h.1M417.5 -244.2h.1M413.6 -318.0h.1M408.5 -311.1h.1M444.0 -357.7h.1M390.0 -260.1h.1M511.8 -44.0h.1M479.2 -385.4h.1M344.8 -234.0h.1M487.8 -60.0h.1M380.1 -245.0h.1M226.8 -47.2h.1M473.2 -291.0h.1M509.4 -55.7h.1M317.1 -177.6h.1M500.5 -351.7h.1M387.0 -41.9h.1M404.0 -247.6h.1M363.2 -118.4h.1M488.0 -60.2h.1M333.4 -230.1h.1M371.5 -240.8h.1M527.9 -292.7h.1M400.0 -185.4h.1M397.0 -182.6h.1M548.8 -309.8h.1M315.7 -130.0h.1M406.2 -279.4h.1M506.3 -315.9h.1M572.2 -85.1h.1M355.0 -52.1h.1M488.1 -296.9h.1M405.9 -282.9h.1M490.2 -200.7h.1M482.4 -381.1h.1M420.6 -237.2h.1M431.8 -303.6h.1M408.8 -252.5h.1M346.6 -225.8h.1M317.0 -222.7h.1M517.0 -27.0h.1M383.5 -117.4h.1M412.8 -228.9h.1M401.6 -242.8h.1M486.6 -27.3h.1M581.4 -97.7h.1M263.1 -79.1h.1M438.0 -274.0h.1M466.3 -346.6h.1M279.9 -164.1h.1M384.9 -248.8h.1M232.3 -29.9h.1M345.4 -201.0h.1M383.3 -241.1h.1M424.3 -254.0h.1M249.2 -118.2h.1M422.4 -231.1h.1M409.4 -227.2h.1M398.6 -224.2h.1M490.2 -339.9h.1M440.6 -328.4h.1M398.6 -252.6h.1M291.1 -137.8h.1M354.4 -230.9h.1M226.5 -62.6h.1M513.4 -141.0h.1M237.3 -108.8h.1M323.8 -181.1h.1M528.8 -245.3h.1M384.7 -244.4h.1M227.5 -67.0h.1M577.5 -74.2h.1M301.1 -118.7h.1M250.9 -122.2h.1M296.7 -118.4h.1M503.5 -220.0h.1M305.7 -142.5h.1M415.4 -240.6h.1M336.2 -232.8h.1M301.3 -143.4h.1M427.3 -255.8h.1M488.8 -67.9h.1M479.6 -328.9h.1M423.6 -277.6h.1M405.4 -251.1h.1M399.9 -235.6h.1M300.6 -109.5h.1M423.6 -310.1h.1M390.8 -228.7h.1M293.8 -141.0h.1M330.8 -227.4h.1M324.2 -183.6h.1M475.8 -96.9h.1M388.5 -297.8h.1M305.1 -67.7h.1M634.8 -54.2h.1M358.0 -239.2h.1M393.6 -230.9h.1M486.6 -35.1h.1M481.4 -325.0h.1M362.2 -92.5h.1M442.1 -153.3h.1M433.3 -299.6h.1M399.7 -278.6h.1M360.3 0.2h.1M436.8 -170.0h.1M416.7 -259.4h.1M231.8 37.3h.1M494.0 -342.0h.1M330.6 -178.1h.1M371.0 -146.8h.1M424.8 -238.3h.1M390.1 -222.0h.1M292.1 -128.3h.1M233.9 36.9h.1M417.0 -272.7h.1M502.8 -354.4h.1M223.8 -30.8h.1M343.2 -171.7h.1M402.5 -280.5h.1M391.9 -264.1h.1M319.7 -224.4h.1M388.1 -123.1h.1M487.0 -52.1h.1M360.6 -202.8h.1M347.6 -203.7h.1M393.8 -90.5h.1M479.2 -321.3h.1M475.7 -384.4h.1M405.0 -183.2h.1M417.5 -119.9h.1M365.9 -180.7h.1M228.6 -71.6h.1M412.5 -257.8h.1M417.0 -225.0h.1M220.3 -10.4h.1M351.2 -213.1h.1M435.4 -271.1h.1M420.4 -274.8h.1M415.3 -286.0h.1M319.8 -177.3h.1"/>
<path stroke="#0a600a" d="M420.9 -261.2h.1M368.5 -187.1h.1M409.1 -285.1h.1M393.0 -304.0h.1M456.5 -302.7h.1M394.8 -308.0h.1M329.5 -185.7h.1M249.5 -103.3h.1M361.4 -266.0h.1M430.4 -311.5h.1M416.7 -230.7h.1M388.4 -45.5h.1M358.6 -232.4h.1M407.8 -247.4h.1M378.1 -99.2h.1M319.4 -199.9h.1M362.9 -233.7h.1M504.6 -357.1h.1M393.4 -124.6h.1M258.4 -127.1h.1M481.5 -344.2h.1M364.4 -95.0h.1M373.2 -158.6h.1M405.1 -228.4h.1M380.9 -101.2h.1M250.4 -107.6h.1M514.0 -316.6h.1M253.8 -109.5h.1M372.1 -155.0h.1M367.0 -184.0h.1M446.8 -163.6h.1"/>
<path stroke="#ffa500" d="M422.4 -84.5h.1M441.9 -329.5h.1M342.3 -55.0h.1M349.7 -57.3h.1M433.0 -303.2h.1M286.5 -165.8h.1M383.8 -275.1h.1M280.0 -155.1h.1M371.8 -83.1h.1M380.8 -248.9h.1M378.4 -231.0h.1M436.4 -304.5h.1M491.2 -290.4h.1M411.7 -104.3h.1M346.4 -215.9h.1M328.0 -88.0h.1M461.5 -221.0h.1M312.8 -33.2h.1M335.9 -102.9h.1M303.0 -88.9h.1M349.5 -235.2h.1M315.3 10.3h.1M332.7 -224.3h.1M249.7 -103.0h.1M371.2 -148.7h.1M351.7 -77.8h.1M370.1 -55.9h.1M229.4 -57.2h.1M348.8 -76.4h.1M448.6 -365.9h.1M346.1 -237.7h.1M326.6 -232.2h.1M416.5 -122.1h.1M244.5 -117.1h.1M293.1 -79.8h.1"/>
<path stroke="#eba000" d="M384.7 4.7h.1M250.3 -60.0h.1M297.3 -35.7h.1M417.6 -295.8h.1M335.3 -227.3h.1M353.8 -50.8h.1M346.3 -181.1h.1M476.7 -348.8h.1M425.5 -327.8h.1M448.2 -334.1h.1M427.3 -286.7h.1M339.8 8.5h.1M394.1 -311.2h.1M300.2 -189.5h.1M389.5 -59.1h.1M372.3 -264.1h.1M406.9 -244.1h.1M384.7 -245.1h.1M275.7 -158.2h.1M326.0 -31.4h.1M314.7 -138.4h.1M316.4 -168.7h.1M505.3 -354.7h.1M298.4 -146.9h.1M280.3 -87.5h.1M272.9 -126.4h.1M346.2 -208.6h.1M256.7 -101.2h.1M461.6 -154.3h.1M448.1 -230.9h.1M484.4 15.6h.1M282.5 -157.6h.1M468.5 -165.0h.1M510.7 -184.9h.1M364.4 -152.4h.1M324.3 -229.9h.1M349.6 -60.9h.1M276.2 -68.9h.1M379.1 -269.2h.1M301.2 -154.5h.1M319.2 -172.2h.1M317.7 -136.1h.1M477.5 -352.8h.1M344.5 -209.1h.1M305.8 -100.1h.1M478.7 28.7h.1M382.1 -290.6h.1M340.7 -89.1h.1M451.2 -368.0h.1M237.2 -54.2h.1M294.5 -32.6h.1M349.2 -64.9h.1M512.4 -326.3h.1M404.1 -242.2h.1M301.1 -102.3h.1M331.3 -233.7h.1M292.6 -78.8h.1M522.0 -45.0h.1M296.9 -132.9h.1M348.7 -60.0h.1M252.9 -102.5h.1M425.4 25.0h.1M468.0 -362.3h.1M465.6 -295.1h.1M222.6 -15.5h.1M388.4 -302.0h.1M275.9 -162.3h.1M392.6 -307.9h.1M454.5 -337.2h.1M432.3 -65.0h.1M413.8 -316.2h.1M340.0 -232.8h.1M471.5 -168.7h.1M366.3 -88.1h.1M297.7 -99.5h.1M299.5 -150.6h.1M290.8 -79.5h.1M373.6 -57.3h.1M340.3 -173.7h.1M277.3 -90.9h.1M345.5 -57.2h.1M429.2 -330.7h.1M519.0 -344.9h.1M210.0 -28.3h.1M442.2 56.7h.1M447.9 -308.6h.1M285.5 -156.4h.1M453.2 -370.8h.1M464.5 -361.1h.1M465.5 -293.3h.1M445.9 -290.7h.1M324.0 -57.3h.1M369.9 -257.3h.1M372.5 -215.7h.1M517.4 -337.7h.1M322.1 -183.3h.1M357.2 -222.9h.1M329.6 -233.9h.1M343.7 -253.6h.1M518.1 -340.9h.1M456.8 -224.6h.1M293.4 -132.1h.1M323.4 -186.4h.1M368.7 -90.9h.1M398.6 -196.4h.1M355.2 -145.5h.1M332.6 -235.7h.1M312.6 -168.8h.1M386.1 -283.4h.1M369.9 -213.1h.1M327.1 -171.5h.1M330.4 -192.9h.1M383.6 -241.3h.1M422.0 -270.2h.1M338.4 -9.1h.1M273.9 -62.2h.1M419.9 -266.9h.1M352.1 -261.2h.1M460.0 48.2h.1M346.6 -106.2h.1M482.2 -350.3h.1M346.7 -167.4h.1M304.5 -96.1h.1M447.9 -293.6h.1M397.2 -163.1h.1M518.5 -331.5h.1M439.8 -306.0h.1M260.6 -100.4h.1M371.8 -81.9h.1M331.1 -89.7h.1M299.0 -84.8h.1M301.1 -133.8h.1M454.9 -145.5h.1M386.8 -201.5h.1M368.2 -249.9h.1M423.9 -283.8h.1M334.8 -234.6h.1M332.8 -177.0h.1M458.9 -227.6h.1M331.9 -216.3h.1M282.9 -84.8h.1M422.0 -128.5h.1M434.7 24.3h.1M373.0 -152.8h.1M470.4 39.6h.1M289.0 -45.1h.1M352.5 -242.6h.1M301.9 -193.9h.1M308.5 -147.7h.1M289.3 -167.2h.1M258.6 -121.6h.1M351.0 -238.7h.1M279.2 46.7h.1M426.1 -327.8h.1M507.9 -356.8h.1M304.7 -134.4h.1M364.1 -85.2h.1M436.4 -174.5h.1M367.3 -154.2h.1M334.9 -92.1h.1M247.9 -56.7h.1M305.7 -177.7h.1M419.3 -125.3h.1M465.7 44.3h.1M337.6 45.5h.1M392.5 -205.7h.1M468.9 -298.2h.1M314.8 14.3h.1M377.7 -210.2h.1M460.9 -359.5h.1M392.4 -251.0h.1M286.8 -48.8h.1"/>
<path stroke="#d59b00" d="M304.1 -107.9h.1M373.5 -227.5h.1M230.0 -89.0h.1M378.7 -96.6h.1M409.6 -250.8h.1M408.6 -243.2h.1M268.2 -100.1h.1M382.4 -205.6h.1M479.1 -356.0h.1M478.2 -298.7h.1M381.8 -104.2h.1M356.4 -234.0h.1M469.1 -281.4h.1M321.9 -175.1h.1M426.9 -343.8h.1M459.8 -292.7h.1M231.5 -60.4h.1M350.8 -200.6h.1M423.1 -301.3h.1M423.7 -273.8h.1M304.2 -197.5h.1M331.0 -150.3h.1M403.5 -194.3h.1M485.1 -352.9h.1M349.3 -209.8h.1M406.8 -197.0h.1M272.4 -130.0h.1M430.8 -277.9h.1M452.1 -308.0h.1M267.9 -123.9h.1M370.7 -255.8h.1M502.7 -307.6h.1M312.1 -112.6h.1M358.6 -226.4h.1M476.1 -305.5h.1M326.1 -164.3h.1M417.0 -334.2h.1M359.8 -54.0h.1M327.1 -150.6h.1M560.0 -269.4h.1M302.1 -90.0h.1M346.4 -212.9h.1M351.3 -158.1h.1M235.2 13.0h.1M368.9 -276.2h.1M378.2 -269.0h.1M351.6 -261.0h.1M437.1 -71.1h.1M340.0 -184.4h.1M324.0 -73.7h.1M303.7 -104.4h.1M404.9 -113.3h.1M323.0 -132.2h.1M349.0 -150.2h.1M415.7 -179.6h.1M375.8 -83.0h.1M445.8 -365.4h.1M303.9 -164.9h.1M314.9 -139.7h.1M305.5 -79.8h.1M454.3 -328.8h.1M399.8 -252.9h.1M416.3 -298.6h.1M278.8 -122.1h.1M407.8 -239.4h.1M307.6 -180.9h.1M243.1 21.1h.1M361.5 -239.4h.1M294.1 -34.5h.1M426.7 -272.7h.1M447.5 -249.4h.1M486.4 -319.0h.1M484.6 -316.1h.1M483.5 -363.3h.1M355.6 -213.7h.1M418.4 -248.3h.1M337.3 -225.5h.1M348.8 -258.7h.1M356.1 -183.7h.1M338.6 -234.3h.1M406.7 -246.8h.1M385.5 -252.8h.1M352.6 -161.8h.1M371.4 -210.3h.1M313.5 -159.0h.1M291.9 -149.7h.1M385.1 -248.7h.1M382.1 -202.3h.1M340.3 -197.0h.1M388.0 -295.7h.1M359.9 -186.8h.1M385.8 -218.4h.1M485.4 -366.7h.1M305.2 -202.0h.1M323.5 -65.0h.1M350.4 -153.9h.1M429.4 -329.4h.1M377.7 -234.1h.1M324.1 -125.0h.1M482.4 -194.3h.1M348.9 -242.0h.1M270.8 -154.0h.1M303.4 -161.3h.1M376.5 -216.0h.1M465.9 -340.1h.1M345.5 -239.0h.1M343.1 -235.7h.1M401.7 -111.1h.1M472.6 -367.7h.1M395.6 -208.3h.1M390.7 -167.0h.1M350.6 -135.9h.1M447.4 -326.7h.1M323.4 -69.2h.1M375.3 -230.6h.1M334.0 -222.9h.1M380.0 -293.9h.1M291.6 -167.8h.1M410.8 -10.9h.1M460.2 -306.4h.1M326.9 -181.7h.1M342.0 -10.6h.1M470.4 -328.0h.1M427.4 -308.1h.1M234.4 -111.4h.1M330.5 -93.6h.1M390.8 -297.7h.1M334.1 -188.6h.1M373.9 -228.8h.1M354.1 -174.4h.1M292.7 -37.6h.1M347.4 -175.1h.1M382.2 -271.8h.1M440.7 -261.8h.1M388.3 -290.6h.1M246.0 10.3h.1M364.2 -234.8h.1M311.1 -191.3h.1M341.4 -128.0h.1M402.4 -241.0h.1M226.6 15.7h.1M326.2 -128.1h.1M439.9 -222.4h.1M342.2 -234.1h.1M355.8 -180.2h.1M396.8 -318.1h.1M383.0 -237.3h.1M316.2 -171.1h.1M310.3 -109.1h.1M281.6 -119.4h.1M475.6 -370.8h.1M328.1 -38.6h.1M231.0 -24.0h.1M375.0 -141.7h.1M474.5 -289.2h.1M391.4 -282.0h.1M402.6 -283.2h.1M319.2 -174.0h.1M353.5 -138.9h.1M276.8 -76.2h.1M355.3 -263.0h.1M292.1 -147.0h.1M330.1 -89.4h.1M389.3 -294.2h.1M476.0 -333.8h.1M304.1 -169.1h.1M375.6 -232.0h.1M442.9 -277.4h.1M423.1 -320.7h.1M334.3 -219.6h.1M380.4 -213.0h.1M299.8 -87.7h.1M387.4 -280.5h.1M295.6 -156.7h.1M383.0 -275.3h.1M300.9 -61.4h.1M366.2 -281.0h.1M355.7 -267.7h.1M348.3 -198.6h.1M268.3 -119.7h.1M309.4 -184.4h.1M359.8 -230.5h.1M271.5 -133.4h.1M337.2 -222.2h.1M431.7 -281.2h.1M388.9 -225.3h.1M475.3 -296.1h.1M397.7 -234.8h.1M346.6 5.7h.1M435.1 -335.9h.1M322.7 -161.9h.1M347.5 -88.6h.1M273.7 -47.8h.1M427.7 -191.7h.1M333.3 -168.8h.1M360.5 -25.4h.1M285.1 -99.3h.1M383.4 -85.2h.1M384.2 -240.8h.1M350.4 -219.7h.1M351.8 -87.9h.1M327.1 -35.2h.1M231.0 14.5h.1M390.1 -229.0h.1M390.8 -232.1h.1M428.5 -347.1h.1M418.5 -181.4h.1"/>
<path stroke="#bb9500" d="M315.4 -103.3h.1M380.3 -249.2h.1M360.7 -148.6h.1M377.2 -148.2h.1M336.3 -203.3h.1M451.9 -284.4h.1M220.8 -74.6h.1M351.3 -134.5h.1M430.7 -260.5h.1M387.8 -307.2h.1M413.6 -283.6h.1M439.4 -323.3h.1M335.9 -170.5h.1M373.9 -274.6h.1M235.2 -67.7h.1M391.1 -301.6h.1M503.6 -345.6h.1M291.3 -49.1h.1M334.5 -83.3h.1M476.2 -295.4h.1M237.5 -71.2h.1M448.8 -330.2h.1M285.3 -166.7h.1M324.8 -77.8h.1M280.2 -77.7h.1M432.6 -83.4h.1M366.9 -229.5h.1M369.2 -223.6h.1M355.7 -178.4h.1M370.4 -287.1h.1M482.1 -238.6h.1M329.8 -10.3h.1M428.1 -258.4h.1M341.1 -206.1h.1M297.2 -191.1h.1M404.6 -286.6h.1M451.4 -333.4h.1M445.6 -290.8h.1M356.5 -259.0h.1M382.5 -243.6h.1M435.2 -278.5h.1M435.0 -323.2h.1M319.2 -101.5h.1M319.8 -121.1h.1M465.3 -302.1h.1M479.4 -336.1h.1M406.3 -290.4h.1M405.0 -303.5h.1M274.8 -21.3h.1M352.4 -139.9h.1M327.1 -211.1h.1M281.8 -153.3h.1M393.9 -257.4h.1M472.9 -288.2h.1M426.2 -260.8h.1M511.6 -354.8h.1M479.5 -378.5h.1M314.7 -115.8h.1M363.5 -242.5h.1M500.3 -319.9h.1M463.4 -305.8h.1M292.5 -127.9h.1M385.7 -303.5h.1M309.6 -87.6h.1M464.9 -333.7h.1M357.1 -199.3h.1M382.9 -169.7h.1M483.2 -314.6h.1M362.1 -188.0h.1M240.0 -71.0h.1M311.9 -104.7h.1M453.1 -256.1h.1M413.9 -242.5h.1M342.7 -107.6h.1M485.7 -241.3h.1M353.7 -247.5h.1M505.4 -309.8h.1M377.6 -164.3h.1M411.0 -319.8h.1M378.1 -245.6h.1M330.9 -216.7h.1M371.3 -264.3h.1M336.3 -200.0h.1M359.1 -207.1h.1M415.8 -271.8h.1M293.6 -143.1h.1M407.9 -115.6h.1M389.6 -119.0h.1M433.3 -332.5h.1M446.8 -267.9h.1M348.4 -132.2h.1M364.4 -277.1h.1M425.1 -320.9h.1M281.7 -120.1h.1M371.5 -267.0h.1M365.6 -189.6h.1M420.0 -299.9h.1M429.4 -274.1h.1M312.4 -86.0h.1M310.2 -25.6h.1M457.0 -337.0h.1M332.5 -168.0h.1M483.9 -304.7h.1M429.9 -80.8h.1M492.2 -318.0h.1M410.4 -118.5h.1M431.8 -322.8h.1M317.7 -141.3h.1M373.7 -213.4h.1M394.2 -240.6h.1M276.7 -84.3h.1M365.0 -246.0h.1M357.6 -195.4h.1M285.3 -23.1h.1M422.2 -253.1h.1M328.5 -130.8h.1M484.8 -312.7h.1M416.7 -152.2h.1M279.9 -57.1h.1M415.0 -297.4h.1M428.3 -301.6h.1M306.7 -112.5h.1M352.2 -223.1h.1M482.0 -381.2h.1M344.2 -258.3h.1M294.2 -79.1h.1M506.0 -348.2h.1M497.5 -316.9h.1M363.3 -188.2h.1M436.8 -142.7h.1M311.3 -139.0h.1M372.2 -270.9h.1M365.7 -184.4h.1M319.9 -163.6h.1M329.7 -127.5h.1M285.6 -131.1h.1M317.2 -113.5h.1M406.5 -219.3h.1M483.1 -338.7h.1M294.2 -45.0h.1M425.7 -336.5h.1M485.4 -317.2h.1M398.2 -285.3h.1M409.4 -95.5h.1M309.2 -142.3h.1M348.3 -234.8h.1M382.6 -209.3h.1M350.1 -246.2h.1M356.6 -204.9h.1M449.2 -281.7h.1M461.8 -332.5h.1M331.0 -97.6h.1M248.2 7.3h.1M463.8 -280.7h.1M354.6 -136.9h.1M351.6 -243.8h.1M393.1 -254.0h.1M429.1 -195.0h.1M345.9 -45.7h.1M284.5 -126.7h.1M344.3 -130.1h.1M247.6 20.7h.1M283.6 -163.0h.1M343.8 -209.8h.1M264.4 -53.7h.1M347.1 -229.7h.1M363.0 -237.8h.1M335.0 -122.0h.1M432.5 -276.7h.1M481.7 -301.3h.1M354.3 -201.8h.1M488.6 -297.7h.1M489.2 -342.8h.1M456.3 -287.2h.1M378.4 -234.1h.1M452.3 -264.1h.1M353.3 -202.6h.1M329.1 -166.3h.1M312.7 -195.6h.1M479.0 -236.4h.1M367.0 -220.8h.1M310.2 75.9h.1M438.8 -286.3h.1M329.3 -89.2h.1M297.5 -80.1h.1M454.3 -336.8h.1M468.3 -334.3h.1M426.8 -283.4h.1M456.1 -264.4h.1M430.7 -201.5h.1M305.8 -89.1h.1M376.4 -231.0h.1M413.6 -96.8h.1M377.2 -215.3h.1M423.3 -343.4h.1M367.5 -55.4h.1M363.3 -226.9h.1M460.5 -324.6h.1M491.6 -355.5h.1M351.6 -197.0h.1M426.0 -346.7h.1M297.3 -88.1h.1M323.7 -183.3h.1M465.1 -309.2h.1M406.7 -312.8h.1M409.2 -316.6h.1M411.7 -252.0h.1M323.0 -179.9h.1M419.6 -264.1h.1M437.0 -301.7h.1M382.1 -108.7h.1M388.0 -250.0h.1M378.7 -219.4h.1M373.6 -253.0h.1M258.5 -143.7h.1M398.0 -239.2h.1M481.6 -293.2h.1M485.9 -340.5h.1M381.1 -245.9h.1M370.9 -66.1h.1M487.9 -306.4h.1M428.6 -339.0h.1M339.2 -172.9h.1M387.2 -297.6h.1M384.7 -190.1h.1M378.0 -151.8h.1M391.0 -310.1h.1M508.0 -352.0h.1M442.5 -288.7h.1M238.9 -75.0h.1M313.4 -98.0h.1M295.9 -41.1h.1M456.3 -295.4h.1M282.3 -159.9h.1"/>
<path stroke="#9e8d00" d="M469.4 -304.0h.1M422.3 -275.0h.1M380.9 -193.4h.1M384.2 -224.7h.1M286.1 -4.6h.1M451.4 -272.6h.1M287.2 -169.6h.1M330.5 -109.2h.1M474.9 -290.2h.1M376.9 -192.4h.1M422.2 -336.5h.1M480.8 -123.2h.1M290.1 -69.0h.1M344.9 -115.3h.1M335.4 -211.1h.1M446.6 -309.0h.1M239.7 -75.3h.1M473.6 -304.6h.1M387.6 -268.7h.1M311.1 -85.6h.1M308.5 -127.2h.1M380.2 -258.7h.1M392.9 -101.1h.1M386.3 -262.3h.1M483.4 -315.4h.1M282.1 -117.2h.1M257.4 0.3h.1M434.2 -262.5h.1M297.7 -70.7h.1M336.9 -178.5h.1M303.3 -207.1h.1M285.9 -12.7h.1M372.4 -84.1h.1M441.4 -297.4h.1M352.0 -268.4h.1M349.8 -264.7h.1M391.8 -252.6h.1M442.8 -301.1h.1M340.9 -169.4h.1M341.3 -198.4h.1M357.7 -139.0h.1M445.0 13.9h.1M363.4 -211.2h.1M301.7 -152.9h.1M494.7 -328.0h.1M490.6 -308.7h.1M432.8 -258.8h.1M301.2 -100.1h.1M472.8 -341.9h.1M474.9 -367.6h.1M429.3 -267.6h.1M226.1 -19.9h.1M409.2 -248.6h.1M264.9 -1.8h.1M298.3 -116.9h.1M321.6 -126.6h.1M476.4 -122.1h.1M304.4 -124.6h.1M284.0 -29.4h.1M326.2 -168.6h.1M273.7 -92.7h.1M379.0 -252.6h.1M356.2 -190.5h.1M334.1 -48.2h.1M335.9 -252.3h.1M345.7 -260.3h.1M479.8 -302.3h.1M442.9 17.8h.1M372.8 -39.5h.1M272.7 -43.4h.1M327.5 -91.9h.1M417.7 -243.3h.1M418.5 -298.4h.1M240.3 -78.1h.1M295.7 -166.1h.1M472.7 -287.5h.1M376.8 -255.9h.1M370.1 -190.7h.1M357.5 -272.4h.1M276.0 -50.1h.1M378.6 -44.6h.1M421.4 -271.9h.1M395.0 -300.0h.1M444.8 -317.0h.1M438.0 -250.9h.1M370.0 -247.4h.1M310.9 -149.9h.1M273.2 -99.8h.1M361.5 -228.2h.1M316.3 -39.6h.1M428.0 -327.9h.1M518.5 -347.4h.1M433.7 -270.6h.1M302.2 -169.7h.1M449.2 -270.2h.1M462.9 -265.3h.1M339.1 -206.8h.1M378.1 -231.7h.1M386.0 -196.2h.1M486.0 -320.3h.1M294.4 -164.6h.1M357.9 -261.8h.1M336.1 -139.7h.1M321.0 -193.6h.1M361.1 -268.9h.1M274.9 -88.5h.1M438.7 -306.0h.1M323.1 -102.7h.1M451.7 -72.4h.1M290.5 -161.4h.1M581.4 -57.4h.1M346.8 -261.3h.1M415.6 -85.3h.1M336.9 -203.6h.1M453.9 -75.1h.1M436.7 -303.4h.1M390.8 -270.3h.1M359.9 15.8h.1M263.3 -143.3h.1M360.9 -140.8h.1M307.6 -83.6h.1M329.9 -113.6h.1M240.8 -81.6h.1M481.8 -171.5h.1M463.6 -179.3h.1M452.2 2.6h.1M494.5 -314.9h.1M359.7 -207.1h.1M521.4 -349.2h.1M495.3 -332.2h.1M421.7 -243.2h.1M363.1 -141.6h.1M395.4 -315.6h.1M395.0 -254.4h.1M492.9 -170.2h.1M394.5 -273.0h.1M237.1 -19.9h.1M343.6 -51.8h.1M599.3 1.7h.1M378.3 -280.5h.1M473.1 -364.8h.1M469.2 -297.5h.1M254.1 -124.8h.1M413.0 -323.5h.1M368.2 -148.9h.1M449.0 -284.6h.1M397.7 -264.1h.1M495.7 -357.1h.1M382.9 -222.6h.1M388.4 -266.4h.1M368.3 -232.1h.1M444.0 -305.7h.1M323.0 -145.3h.1M345.7 -214.3h.1M358.6 -226.6h.1M398.7 -256.1h.1M364.6 -212.8h.1M340.0 -181.4h.1M436.1 -335.3h.1M308.8 -98.9h.1M328.4 -229.5h.1M414.5 -326.9h.1M359.0 -264.9h.1M257.6 -74.1h.1M360.3 -208.5h.1M434.0 -300.4h.1M383.9 -193.7h.1M291.6 -101.6h.1M425.3 -327.1h.1M289.1 -158.3h.1M456.9 -320.6h.1M429.6 -277.6h.1M504.8 -324.7h.1M394.0 -210.2h.1M292.8 -98.5h.1M311.8 -32.8h.1M385.8 -172.8h.1M425.1 -243.0h.1M430.7 -255.1h.1M335.6 -206.8h.1M292.3 -56.1h.1M266.2 -144.8h.1M440.6 -274.3h.1M473.5 -18.2h.1M470.8 -337.8h.1M235.3 -101.1h.1M480.1 -12.0h.1M298.5 -200.6h.1M431.4 -271.4h.1M270.5 -76.5h.1M378.8 -159.6h.1M313.4 -37.8h.1M339.7 -170.1h.1M346.7 -9.6h.1M383.8 -261.1h.1M312.5 -37.2h.1M413.6 -282.9h.1M398.9 -21.8h.1M339.2 -142.3h.1M406.5 -99.6h.1M320.0 -101.0h.1M375.7 -41.7h.1M437.0 -302.4h.1M365.2 -230.4h.1M289.2 -172.2h.1M269.4 -80.1h.1M480.3 -25.5h.1M405.7 -230.6h.1M381.4 -190.4h.1M252.9 69.6h.1M464.9 -112.4h.1M352.1 -176.3h.1M305.0 -154.5h.1M239.7 -79.7h.1M378.7 -164.0h.1M359.8 -204.0h.1M309.9 -35.7h.1M441.5 -253.0h.1M273.4 -96.2h.1M323.8 -149.0h.1M553.3 -60.3h.1M452.0 -308.1h.1M260.8 -0.8h.1M254.3 -71.3h.1M454.9 -314.7h.1M485.1 -354.3h.1M445.4 -254.4h.1M241.0 -85.6h.1M465.5 -295.0h.1M337.5 -166.5h.1M418.8 -308.0h.1M400.6 -9.8h.1M435.1 -302.8h.1M288.6 -130.2h.1M468.5 -16.2h.1M371.9 -190.0h.1M299.8 -204.3h.1M321.7 -123.9h.1M452.5 -287.4h.1M385.4 -250.3h.1M353.9 -188.2h.1M311.6 -124.4h.1M352.4 24.1h.1M485.5 -313.1h.1"/>
<path stroke="#808400" d="M416.8 -299.4h.1M333.6 -55.2h.1M343.3 -235.3h.1M350.7 -177.8h.1M327.8 -159.3h.1M314.8 -49.3h.1M298.0 -141.2h.1M417.3 -93.3h.1M312.9 -161.8h.1M348.8 -189.7h.1M366.3 -143.3h.1M272.6 -4.2h.1M471.7 -366.7h.1M365.5 -196.7h.1M407.5 -292.2h.1M477.5 -373.8h.1M288.6 -113.1h.1M418.7 -272.6h.1M359.0 -12.6h.1M311.3 -153.9h.1M435.5 -337.9h.1M388.9 -226.0h.1M373.0 -246.7h.1M357.1 -243.0h.1M240.1 18.8h.1M357.4 -18.2h.1M358.3 -214.3h.1M362.7 -277.1h.1M414.1 -333.0h.1M321.2 -193.4h.1M369.4 -145.1h.1M441.8 -308.2h.1M454.1 -317.3h.1M299.6 -38.6h.1M461.6 -336.9h.1M400.2 -309.1h.1M229.8 -98.7h.1M437.9 -343.5h.1M299.2 -34.8h.1M326.2 -104.3h.1M374.6 -172.8h.1M451.9 -257.4h.1M301.4 -168.6h.1M382.2 -137.6h.1M392.7 -227.8h.1M311.1 -128.9h.1M437.1 -306.4h.1M277.0 -43.4h.1M421.4 -305.9h.1M270.1 -145.4h.1M366.0 -251.5h.1M432.8 -329.5h.1M369.1 -224.0h.1M335.5 -171.5h.1M373.2 -190.2h.1M358.8 -179.9h.1M302.4 -202.6h.1M388.1 -199.2h.1M482.8 -310.1h.1M456.3 -293.8h.1M412.2 -330.1h.1M438.0 -284.2h.1M371.7 -227.3h.1M388.8 -260.1h.1M464.1 -324.1h.1M411.1 -281.8h.1M446.1 -192.4h.1M292.5 -111.0h.1M317.2 -133.3h.1M342.9 -232.9h.1M375.7 -248.9h.1M469.2 -364.5h.1M439.6 -308.5h.1M344.3 -177.5h.1M474.9 -309.8h.1M261.4 -131.4h.1M298.0 -31.1h.1M530.5 -323.1h.1M372.1 -233.8h.1M412.0 -298.8h.1M271.0 -146.6h.1M462.6 -297.0h.1M357.3 -247.1h.1M354.4 -12.4h.1M324.7 -152.3h.1M400.6 -160.6h.1M406.6 -212.7h.1M241.5 -89.2h.1M345.8 -219.8h.1M412.2 -269.5h.1M413.8 -284.1h.1M295.1 -148.7h.1M443.9 -312.2h.1M459.4 -295.5h.1M365.1 -261.4h.1M417.6 -303.0h.1M337.7 -182.2h.1M339.0 -229.3h.1M407.6 -317.9h.1M431.5 -342.8h.1M372.9 -195.7h.1M307.1 -181.4h.1M355.0 -263.4h.1M338.1 -240.2h.1M239.8 -91.8h.1M409.8 -326.6h.1M413.0 -250.3h.1M431.6 -341.0h.1M334.4 -63.7h.1M428.8 -313.9h.1M480.6 -356.9h.1M457.8 -293.6h.1M305.4 -177.4h.1M484.7 -317.4h.1M353.8 -193.8h.1M472.3 -326.0h.1M482.6 -336.3h.1M359.1 -274.7h.1M322.9 -44.4h.1M471.3 -324.9h.1M328.2 -201.8h.1M365.6 -221.4h.1M338.9 -189.6h.1M349.9 -267.5h.1M258.3 -128.1h.1M500.7 -306.0h.1M405.0 -314.3h.1M450.9 -267.0h.1M325.4 -156.7h.1M466.6 -379.9h.1M290.0 -116.7h.1M342.3 -234.0h.1M468.0 -324.7h.1M329.1 -157.1h.1M415.2 -271.1h.1M367.4 -219.1h.1M347.7 -202.5h.1M419.9 -253.3h.1M366.7 -180.2h.1M476.5 -272.2h.1M462.3 -372.8h.1M287.1 -31.8h.1M333.9 -203.7h.1M372.9 -231.4h.1M455.1 -272.5h.1M289.0 -105.0h.1M448.0 -318.8h.1M376.3 -244.9h.1M265.9 -127.3h.1M362.6 -236.6h.1M484.3 -353.9h.1M342.5 -213.8h.1M458.0 -304.4h.1M481.6 -351.1h.1M383.0 -233.5h.1M433.0 -278.6h.1M476.3 -370.6h.1M321.8 -134.7h.1M368.8 -184.5h.1M361.7 -195.8h.1M320.8 -138.8h.1M350.5 -226.1h.1M339.7 -204.1h.1M478.6 -297.7h.1M296.8 -200.1h.1M287.2 -114.1h.1M333.0 -158.7h.1M347.4 -218.2h.1M240.6 -95.6h.1M458.7 -279.0h.1M433.0 -335.2h.1M510.4 -330.1h.1M372.1 -224.9h.1M486.2 -356.5h.1M414.2 -322.2h.1M365.8 -183.3h.1M347.7 -174.5h.1M388.4 -294.2h.1M369.9 -211.7h.1M302.7 -118.0h.1M443.3 -282.3h.1M386.7 -202.5h.1M476.6 -292.6h.1M315.6 -97.3h.1M393.7 -266.9h.1M343.1 -234.9h.1M278.9 -137.0h.1M352.2 -190.2h.1M371.5 -151.3h.1M344.5 -172.2h.1M390.5 -264.9h.1M264.7 -123.4h.1M462.8 -377.3h.1M381.2 -260.5h.1M332.4 -168.5h.1M492.5 -328.5h.1M443.5 -304.3h.1M422.0 -283.5h.1M403.1 -281.0h.1M322.8 12.2h.1M283.3 -47.0h.1M408.3 -268.5h.1M318.6 11.3h.1M337.1 -110.0h.1M312.3 -98.0h.1M428.4 -243.1h.1M465.2 -283.4h.1M313.8 -45.9h.1M434.6 -342.1h.1M470.4 -265.8h.1M472.8 -321.7h.1M487.1 -360.5h.1M470.1 -238.0h.1M360.8 -217.7h.1M319.0 -190.7h.1M387.1 -263.6h.1M346.1 -180.3h.1M430.6 -332.8h.1M494.0 -324.9h.1M350.5 -233.5h.1M378.8 -251.8h.1M306.3 -171.2h.1M397.3 -275.4h.1M346.6 -260.7h.1"/>
<path stroke="#637b00" d="M466.6 -297.7h.1M471.4 -245.2h.1M350.1 -186.2h.1M339.9 -157.1h.1M341.7 -67.0h.1M410.7 -239.4h.1M265.1 -130.9h.1M396.0 -227.9h.1M364.3 -264.2h.1M365.2 -84.1h.1M353.0 -233.7h.1M392.2 -219.5h.1M360.7 -116.5h.1M356.8 -182.6h.1M308.2 -157.7h.1M422.5 -243.6h.1M356.2 -197.7h.1M229.1 -5.9h.1M298.3 -124.7h.1M372.3 -198.6h.1M445.5 -313.2h.1M425.5 -259.0h.1M332.6 -151.1h.1M486.7 -303.9h.1M343.9 -43.2h.1M352.4 -189.2h.1M350.8 -251.4h.1M339.1 -152.8h.1M362.0 -229.7h.1M412.5 -289.8h.1M400.8 -213.7h.1M490.3 -383.7h.1M431.4 -231.3h.1M325.6 -164.7h.1M417.7 -310.6h.1M422.0 -274.1h.1M342.4 -39.1h.1M370.2 -258.1h.1M317.7 -182.0h.1M329.8 -161.0h.1M479.4 -279.5h.1M389.1 -260.1h.1M343.2 -202.9h.1M316.6 -57.1h.1M450.0 -315.8h.1M410.7 -213.8h.1M437.7 -341.0h.1M376.1 -231.7h.1M360.6 -217.4h.1M308.3 -209.6h.1M363.6 -232.9h.1M374.0 -239.1h.1M268.3 -64.5h.1M323.5 -184.8h.1M478.3 -312.1h.1M472.3 -302.9h.1M264.7 -139.4h.1M264.6 -134.4h.1M504.0 -337.3h.1M374.5 -149.1h.1M468.3 -285.1h.1M418.4 -314.1h.1M355.4 -274.3h.1M330.4 -204.9h.1M306.4 -205.7h.1M422.4 -256.1h.1M397.3 -284.0h.1M376.8 -232.4h.1M357.9 -201.4h.1M335.4 -67.9h.1M352.4 -270.8h.1M455.3 -371.6h.1M363.3 -281.7h.1M439.5 -343.9h.1M280.3 -118.6h.1M398.3 -179.3h.1M265.6 -149.8h.1M431.2 -277.7h.1M417.3 -215.2h.1M315.1 -159.7h.1M372.6 -261.7h.1M345.2 -46.5h.1M419.2 -243.1h.1M362.5 -77.8h.1M405.3 -226.9h.1M384.4 -230.7h.1M321.1 -198.2h.1M368.2 -183.1h.1M514.6 -348.6h.1M373.2 -225.9h.1M379.8 -210.7h.1M485.6 -363.5h.1M386.0 -237.2h.1M381.3 -268.5h.1M416.3 -336.9h.1M312.2 -176.2h.1M337.1 -221.6h.1M376.5 -228.1h.1M502.6 -308.6h.1M356.6 -277.7h.1M343.4 -110.8h.1M340.3 -178.2h.1M384.2 -261.3h.1M417.1 -273.6h.1M482.9 -360.5h.1M322.1 -127.6h.1M368.1 -254.4h.1M450.9 -322.1h.1M362.6 -120.1h.1M317.2 -151.8h.1M512.0 -341.0h.1M372.4 -214.4h.1M376.0 -200.4h.1M373.5 -242.6h.1M391.3 -296.8h.1M304.8 -155.7h.1M508.0 -254.2h.1M486.3 -324.8h.1M315.2 -179.6h.1M466.7 -281.3h.1M404.4 -218.7h.1M382.6 -244.9h.1M484.4 -316.9h.1M413.0 -293.2h.1M365.4 -284.3h.1M246.5 22.2h.1M434.1 -323.2h.1M464.0 -298.9h.1M488.4 -366.3h.1M395.5 -196.2h.1M481.6 -379.8h.1M405.8 -259.2h.1M358.5 -213.5h.1M305.9 -11.0h.1M296.8 -153.6h.1M453.2 -317.3h.1M373.4 -241.9h.1M259.7 -144.8h.1M359.5 -280.4h.1M481.7 -298.3h.1M414.6 -258.7h.1M488.3 -359.4h.1M429.2 -275.0h.1M388.0 -218.2h.1M334.1 -56.7h.1M418.7 -340.7h.1M376.3 -247.0h.1M354.2 -274.1h.1M412.3 -285.3h.1M292.7 -161.4h.1M262.8 -147.3h.1M490.9 -327.5h.1M363.4 -277.0h.1M374.1 -265.8h.1M338.2 -198.4h.1M475.2 -390.5h.1M315.3 -53.3h.1M396.7 -261.8h.1M441.0 -344.6h.1M250.2 23.5h.1M340.4 -200.5h.1M325.7 -162.7h.1M494.5 -329.0h.1M469.7 -303.6h.1M408.2 -220.3h.1M488.7 -377.4h.1M369.1 -186.2h.1M423.7 -328.7h.1M306.9 -164.6h.1M412.1 -229.2h.1M376.8 -243.0h.1M489.0 -373.8h.1M351.7 -229.7h.1M359.7 -204.2h.1M374.1 -229.0h.1M403.7 -265.3h.1M458.6 -259.5h.1M320.6 -135.8h.1M396.6 -215.2h.1M477.1 -372.6h.1M334.7 10.3h.1M506.7 -340.5h.1M299.9 -39.7h.1M353.7 -180.5h.1M347.2 -243.7h.1M394.9 -211.8h.1M452.8 -325.6h.1M264.6 -135.3h.1M345.2 -206.7h.1M340.9 -195.8h.1M408.4 -236.2h.1M489.0 -370.2h.1M298.2 39.0h.1M490.2 -345.1h.1M474.7 -298.6h.1"/>
<path stroke="#467100" d="M348.5 -43.8h.1M414.2 -223.5h.1M373.4 -190.5h.1M357.9 -231.1h.1M412.5 -297.4h.1M510.8 -244.9h.1M343.2 -198.5h.1M422.8 -315.2h.1M379.4 -241.4h.1M399.7 -305.2h.1M488.7 -252.7h.1M339.6 -167.7h.1M473.1 -286.5h.1M465.0 -317.3h.1M358.5 -199.6h.1M347.3 -213.8h.1M388.8 -238.8h.1M379.5 -237.9h.1M504.5 -239.2h.1M427.7 -261.3h.1M355.3 -85.0h.1M468.1 -263.8h.1M413.3 -234.5h.1M424.6 -259.5h.1M464.1 -339.5h.1M396.0 -220.5h.1M450.0 -204.2h.1M375.5 -245.4h.1M381.3 -222.0h.1M320.4 -166.1h.1M480.5 -332.9h.1M376.6 -288.4h.1M369.9 -237.5h.1M383.9 -224.5h.1M431.8 -321.5h.1M343.9 -210.6h.1M402.2 -306.6h.1M410.2 -263.9h.1M333.0 -163.3h.1M336.4 -165.1h.1M316.3 -122.1h.1M405.9 -311.6h.1M381.8 -238.0h.1M387.4 -219.2h.1M369.6 -200.6h.1M356.7 -110.1h.1M450.1 -219.4h.1M313.7 -194.5h.1M491.7 -308.2h.1M362.4 -215.7h.1M411.5 -265.9h.1M471.8 -326.3h.1M422.2 -274.0h.1M375.6 -87.0h.1M312.9 -175.8h.1M407.4 -266.8h.1M380.5 -150.8h.1M344.9 -226.7h.1M380.3 -219.2h.1M309.8 -166.4h.1M431.6 -263.2h.1M325.6 -217.9h.1M366.8 -235.2h.1M328.4 -213.4h.1M408.0 -230.7h.1M407.9 -226.6h.1M363.9 -133.0h.1M313.7 -168.3h.1M455.1 -225.0h.1M288.2 -118.9h.1M271.5 -155.2h.1M414.4 -222.2h.1M372.8 -202.1h.1M410.9 -268.5h.1M375.2 -152.6h.1M382.3 -241.2h.1M419.4 -318.4h.1M427.8 -262.5h.1M285.3 -109.4h.1M329.6 -216.7h.1M400.0 -212.2h.1M445.7 -362.3h.1M276.7 -161.0h.1M353.4 -209.2h.1M337.4 -157.1h.1M398.9 -160.2h.1M327.0 -214.4h.1M479.9 -321.3h.1M349.7 -58.9h.1M260.9 29.4h.1M447.8 -65.9h.1M364.7 -237.4h.1M410.2 -265.2h.1M325.7 -187.7h.1M285.5 -74.7h.1M379.8 -239.6h.1M372.6 20.1h.1M398.9 -196.3h.1M312.0 -216.3h.1M465.2 -261.0h.1M516.6 -356.7h.1M376.9 -155.8h.1M386.3 -219.4h.1M314.2 -19.0h.1M456.9 -207.5h.1M347.6 -186.8h.1M400.1 -250.4h.1M283.8 -162.9h.1M418.2 -303.7h.1M387.7 -110.5h.1M396.8 -277.1h.1M402.7 -106.3h.1M288.6 -77.4h.1M441.0 -354.7h.1M381.3 -243.5h.1M354.6 -191.8h.1M394.2 -275.0h.1M391.7 -262.4h.1M406.1 -256.3h.1M416.1 -269.8h.1M345.2 -205.7h.1M358.1 -234.7h.1M278.3 -71.4h.1M435.2 -349.8h.1M461.4 -377.5h.1M486.7 -337.9h.1M457.1 -317.5h.1M449.6 -320.4h.1M452.6 -366.0h.1M305.4 37.0h.1M408.4 -259.8h.1M377.7 -250.0h.1M443.2 -283.6h.1M402.5 -252.6h.1M411.1 -262.4h.1M438.0 -352.2h.1M328.7 -224.7h.1M380.2 -244.6h.1M328.0 -179.1h.1M432.5 -289.3h.1M422.8 -278.5h.1M433.3 -268.6h.1M393.1 -271.9h.1M515.8 -348.8h.1M474.3 -329.3h.1M413.5 -270.4h.1M467.3 -382.3h.1M370.2 -277.4h.1M341.0 -164.1h.1M417.3 -236.2h.1M360.3 -250.8h.1M408.4 -285.1h.1M384.2 -216.7h.1M281.4 -109.5h.1M400.6 -284.2h.1M347.1 -218.0h.1M405.2 -284.8h.1M453.5 -206.3h.1M483.8 -335.3h.1M464.1 -278.6h.1M401.2 -268.6h.1M445.8 -290.5h.1M366.1 -217.2h.1M451.9 -222.6h.1M382.2 -244.9h.1M412.1 -285.4h.1M246.5 -104.7h.1M322.5 -131.0h.1M477.3 -317.3h.1M503.0 -331.0h.1M387.7 -267.7h.1M343.4 -204.1h.1M366.1 -136.6h.1M479.6 -324.9h.1M366.2 -93.2h.1M330.0 -194.4h.1M393.0 -220.1h.1M327.8 -175.2h.1M415.7 -261.9h.1M260.5 -72.4h.1M430.7 -265.5h.1M389.0 -270.7h.1M311.5 -16.2h.1M470.2 -322.9h.1M475.0 -268.4h.1M380.8 -222.4h.1M498.7 -330.1h.1M479.6 -379.0h.1M281.3 -123.7h.1M391.7 -82.6h.1M405.4 -165.7h.1M410.5 -232.5h.1M476.3 -303.9h.1M310.1 -212.8h.1M341.3 -160.4h.1M389.5 -217.9h.1M486.8 -248.7h.1M268.0 -146.0h.1M452.7 -347.5h.1M392.0 -223.5h.1"/>
<path stroke="#286805" d="M487.0 -42.9h.1M391.5 -248.7h.1M322.2 -180.4h.1M264.4 -82.2h.1M315.9 -192.4h.1M380.1 -48.1h.1M486.5 -292.7h.1M412.6 -273.9h.1M408.9 -256.8h.1M306.2 -138.1h.1M309.0 -67.8h.1M479.3 -332.2h.1M483.4 -328.9h.1M394.4 -238.6h.1M349.6 -217.1h.1M395.5 -225.7h.1M516.6 -27.3h.1M288.4 -126.5h.1M471.2 -287.1h.1M538.3 -125.9h.1M511.9 -43.3h.1M218.2 -21.2h.1M386.7 -252.7h.1M358.4 -111.4h.1M451.0 -67.4h.1M384.7 -194.0h.1M497.8 -348.7h.1M410.1 -318.4h.1M415.1 -100.8h.1M513.6 -57.0h.1M412.4 -217.7h.1M343.0 -174.7h.1M360.1 -89.9h.1M385.3 -120.2h.1M386.5 -294.8h.1M359.4 -262.6h.1M445.3 -160.5h.1M478.5 -335.8h.1M360.6 -113.9h.1M514.9 -34.5h.1M401.6 -226.1h.1M324.9 -225.3h.1M386.3 -247.9h.1M390.9 -301.2h.1M327.4 -175.4h.1M226.3 -30.5h.1M395.7 -222.5h.1M363.5 -205.4h.1M515.1 -34.4h.1M225.5 -44.0h.1M441.1 -240.9h.1M228.7 38.1h.1M413.5 -277.2h.1M216.6 -26.7h.1M431.1 -307.7h.1M421.5 -226.2h.1M319.5 -172.4h.1M392.4 -225.2h.1M414.9 -109.3h.1M488.5 -68.0h.1M486.3 -51.1h.1M374.4 -242.1h.1M434.6 -323.4h.1M342.4 -171.2h.1M359.0 -247.3h.1M377.1 -243.7h.1M404.2 -244.9h.1M333.5 -181.0h.1M315.9 -22.1h.1M415.4 -105.2h.1M379.2 -94.0h.1M471.3 -383.7h.1M438.7 -266.4h.1M419.8 -228.4h.1M320.5 -179.3h.1M405.9 -108.4h.1M415.0 -321.4h.1M289.4 -109.5h.1M365.0 -177.1h.1M438.2 -325.9h.1M494.2 -25.2h.1M452.9 -301.0h.1M351.4 -229.7h.1M371.6 -285.0h.1M497.2 -343.1h.1M359.4 -117.0h.1M305.6 -119.3h.1M357.4 -259.7h.1M292.7 -118.8h.1M369.6 -142.8h.1M508.2 -139.5h.1M406.2 -249.1h.1M397.8 -240.4h.1M363.0 -253.3h.1M385.0 -158.5h.1M495.6 -134.3h.1M342.9 -183.9h.1M371.3 -150.6h.1M519.9 -355.2h.1M374.5 -96.4h.1M379.2 -159.8h.1M490.8 -205.0h.1M388.6 -196.3h.1M296.4 -109.0h.1M523.1 -137.0h.1M502.2 -314.1h.1M296.3 -143.3h.1M412.5 -112.8h.1M409.2 -110.5h.1M387.2 -251.6h.1M408.0 -216.3h.1M316.9 -196.7h.1M395.1 -250.4h.1M440.2 -276.9h.1M276.0 -164.3h.1M411.2 -314.6h.1M414.6 -281.4h.1M568.8 -100.3h.1M516.0 -22.3h.1M229.3 -50.6h.1M347.9 -228.5h.1M293.0 -109.1h.1M343.5 -175.5h.1M358.4 -243.2h.1M399.3 -227.5h.1M574.3 -100.3h.1M481.1 -340.9h.1M343.6 -179.8h.1M323.7 -174.2h.1M405.7 -224.6h.1M402.9 -246.6h.1M265.7 -85.4h.1M346.7 -222.2h.1M510.0 -315.9h.1M404.5 -275.9h.1M350.9 -206.9h.1M458.5 -226.8h.1M503.8 -23.4h.1M529.8 -296.2h.1M371.5 -93.3h.1M421.3 -307.0h.1M355.7 -256.1h.1M580.9 -63.9h.1M407.6 -283.0h.1M550.2 -313.3h.1M388.6 -256.7h.1M346.7 -237.3h.1M449.1 -299.9h.1M480.0 -336.7h.1M419.2 -271.1h.1"/>
<path stroke="#0a600a" d="M416.5 -218.8h.1M255.3 -124.2h.1M387.9 -255.3h.1M414.7 -285.2h.1M384.0 -246.3h.1M327.0 -183.4h.1M359.4 -251.2h.1M374.4 -106.0h.1M424.6 -262.5h.1M267.2 -89.4h.1M501.2 -343.7h.1M429.9 -315.7h.1M230.9 -69.9h.1M320.1 -205.4h.1M389.9 -49.5h.1M256.0 -112.9h.1M327.2 -186.9h.1M460.8 -304.2h.1M393.1 -267.4h.1M410.2 -69.5h.1M353.9 -209.4h.1M234.0 -56.2h.1M439.8 -173.3h.1M231.2 -53.3h.1M485.9 -332.8h.1M411.4 -72.7h.1M233.5 -73.2h.1M506.0 -310.2h.1M390.5 -125.7h.1M343.1 -178.3h.1"/>
</g>
<path d="M129.9,201.4 C131,199.4 134.4,193.3 136.6,189.6 C138.8,185.8 140.6,182.7 142.8,178.9 C145,175.1 147.5,170.7 149.9,166.8 C152.3,162.9 154.8,158.9 157,155.6 C159.2,152.3 161.2,149.6 163.3,146.8 C165.4,144 167.6,141.3 169.5,139 C171.4,136.7 173,134.9 174.8,132.8 C176.6,130.8 178.3,128.8 180.2,126.7 C182.1,124.6 184.5,122.2 186.4,120 C188.3,117.8 188.9,116.2 191.4,113.8 C193.9,111.3 197.8,108 201.3,105.3 C204.8,102.6 208.8,99.8 212.6,97.5 C216.4,95.2 219.7,93.2 223.9,91.2 C228.1,89.2 233.3,87.2 238,85.5 C242.7,83.8 248.1,82.3 252.1,81.3 C256.1,80.2 258.2,79.7 262,79.2 C265.8,78.7 269.1,78.7 275,78.5 C280.9,78.3 290.3,78.6 297.7,78 C305.1,77.4 312.3,76.7 319.6,75.1 C326.9,73.5 334.9,70.5 341.6,68.6 C348.3,66.7 355.6,64.8 360,63.5 C364.4,62.2 365.2,61.9 367.8,61.1 C370.4,60.3 373,59.4 375.6,58.8 C378.2,58.2 380.9,57.9 383.5,57.6 C386.1,57.3 386.1,57.1 391.3,57 C396.5,56.9 408.2,57 414.7,57 C421.2,57 426.5,57 430.4,56.8 C434.3,56.6 435.6,56 438.2,55.6 C440.8,55.2 443.4,54.6 446,54.1 C448.6,53.6 449.8,53.1 453.8,52.9 C457.8,52.6 455.6,52.6 470,52.6 C484.4,52.6 515,52.6 540,52.6 C565,52.6 606.7,52.6 620,52.6" fill="none" stroke="#1a1a1a" stroke-width="1.4"/>
<defs><linearGradient id="gA" x1="0" y1="1" x2="0" y2="0"><stop offset="0" stop-color="#ffa500"/><stop offset="0.25" stop-color="#cd9900"/><stop offset="0.5" stop-color="#9c8b00"/><stop offset="0.75" stop-color="#517500"/><stop offset="1" stop-color="#006400"/></linearGradient></defs>
<rect x="706.1" y="215.9" width="14.1" height="68.5" fill="url(#gA)"/>
<line x1="706.1" y1="238.4" x2="708.6" y2="238.4" stroke="#fff" stroke-width="0.8"/><line x1="717.7" y1="238.4" x2="720.2" y2="238.4" stroke="#fff" stroke-width="0.8"/>
<line x1="706.1" y1="262.3" x2="708.6" y2="262.3" stroke="#fff" stroke-width="0.8"/><line x1="717.7" y1="262.3" x2="720.2" y2="262.3" stroke="#fff" stroke-width="0.8"/>
<rect x="65.1" y="34.4" width="627.8" height="419.1" fill="none" stroke="#707070" stroke-width="1.1"/>
<line x1="93.5" y1="453.5" x2="93.5" y2="455.5" stroke="#333" stroke-width="1"/>
<text x="93.5" y="464.1" font-size="9" fill="#3a3a3a" text-anchor="middle" textLength="10.3" lengthAdjust="spacingAndGlyphs">0.0</text>
<line x1="207.7" y1="453.5" x2="207.7" y2="455.5" stroke="#333" stroke-width="1"/>
<text x="207.7" y="464.1" font-size="9" fill="#3a3a3a" text-anchor="middle" textLength="10.3" lengthAdjust="spacingAndGlyphs">0.2</text>
<line x1="321.9" y1="453.5" x2="321.9" y2="455.5" stroke="#333" stroke-width="1"/>
<text x="321.9" y="464.1" font-size="9" fill="#3a3a3a" text-anchor="middle" textLength="10.3" lengthAdjust="spacingAndGlyphs">0.4</text>
<line x1="436.1" y1="453.5" x2="436.1" y2="455.5" stroke="#333" stroke-width="1"/>
<text x="436.1" y="464.1" font-size="9" fill="#3a3a3a" text-anchor="middle" textLength="10.3" lengthAdjust="spacingAndGlyphs">0.6</text>
<line x1="550.3" y1="453.5" x2="550.3" y2="455.5" stroke="#333" stroke-width="1"/>
<text x="550.3" y="464.1" font-size="9" fill="#3a3a3a" text-anchor="middle" textLength="10.3" lengthAdjust="spacingAndGlyphs">0.8</text>
<line x1="664.5" y1="453.5" x2="664.5" y2="455.5" stroke="#333" stroke-width="1"/>
<text x="664.5" y="464.1" font-size="9" fill="#3a3a3a" text-anchor="middle" textLength="10.3" lengthAdjust="spacingAndGlyphs">1.0</text>
<line x1="63.1" y1="95" x2="65.1" y2="95" stroke="#333" stroke-width="1"/>
<text x="60.7" y="98.8" font-size="8.7" fill="#3a3a3a" text-anchor="end" textLength="16.5" lengthAdjust="spacingAndGlyphs">1000</text>
<line x1="63.1" y1="171.5" x2="65.1" y2="171.5" stroke="#333" stroke-width="1"/>
<text x="60.7" y="175.3" font-size="8.7" fill="#3a3a3a" text-anchor="end" textLength="16.5" lengthAdjust="spacingAndGlyphs">2000</text>
<line x1="63.1" y1="248" x2="65.1" y2="248" stroke="#333" stroke-width="1"/>
<text x="60.7" y="251.8" font-size="8.7" fill="#3a3a3a" text-anchor="end" textLength="16.5" lengthAdjust="spacingAndGlyphs">3000</text>
<line x1="63.1" y1="324.5" x2="65.1" y2="324.5" stroke="#333" stroke-width="1"/>
<text x="60.7" y="328.3" font-size="8.7" fill="#3a3a3a" text-anchor="end" textLength="16.5" lengthAdjust="spacingAndGlyphs">4000</text>
<line x1="63.1" y1="401" x2="65.1" y2="401" stroke="#333" stroke-width="1"/>
<text x="60.7" y="404.8" font-size="8.7" fill="#3a3a3a" text-anchor="end" textLength="16.5" lengthAdjust="spacingAndGlyphs">5000</text>
<text x="378.4" y="474.1" font-size="9.4" fill="#222" text-anchor="middle" textLength="14.4" lengthAdjust="spacingAndGlyphs">SDI</text>
<text x="40.6" y="244.3" font-size="9.4" fill="#222" text-anchor="middle" textLength="19.1" lengthAdjust="spacingAndGlyphs" transform="rotate(-90 40.6 244.3)">ASR</text>
<line x1="910.1" y1="34.4" x2="910.1" y2="453.2" stroke="#eeeeee" stroke-width="0.9"/>
<line x1="1021.5" y1="34.4" x2="1021.5" y2="453.2" stroke="#eeeeee" stroke-width="0.9"/>
<line x1="1132.8" y1="34.4" x2="1132.8" y2="453.2" stroke="#eeeeee" stroke-width="0.9"/>
<line x1="1244.2" y1="34.4" x2="1244.2" y2="453.2" stroke="#eeeeee" stroke-width="0.9"/>
<line x1="1355.6" y1="34.4" x2="1355.6" y2="453.2" stroke="#eeeeee" stroke-width="0.9"/>
<line x1="826.7" y1="59" x2="1439.8" y2="59" stroke="#eeeeee" stroke-width="0.9"/>
<line x1="826.7" y1="186.6" x2="1439.8" y2="186.6" stroke="#eeeeee" stroke-width="0.9"/>
<line x1="826.7" y1="314.3" x2="1439.8" y2="314.3" stroke="#eeeeee" stroke-width="0.9"/>
<line x1="826.7" y1="442.1" x2="1439.8" y2="442.1" stroke="#eeeeee" stroke-width="0.9"/>
<line x1="854.4" y1="34.4" x2="854.4" y2="453.2" stroke="#ebebeb" stroke-width="1.1"/>
<line x1="965.8" y1="34.4" x2="965.8" y2="453.2" stroke="#ebebeb" stroke-width="1.1"/>
<line x1="1077.2" y1="34.4" x2="1077.2" y2="453.2" stroke="#ebebeb" stroke-width="1.1"/>
<line x1="1188.5" y1="34.4" x2="1188.5" y2="453.2" stroke="#ebebeb" stroke-width="1.1"/>
<line x1="1299.9" y1="34.4" x2="1299.9" y2="453.2" stroke="#ebebeb" stroke-width="1.1"/>
<line x1="1411.3" y1="34.4" x2="1411.3" y2="453.2" stroke="#ebebeb" stroke-width="1.1"/>
<line x1="826.7" y1="122.8" x2="1439.8" y2="122.8" stroke="#ebebeb" stroke-width="1.1"/>
<line x1="826.7" y1="250.5" x2="1439.8" y2="250.5" stroke="#ebebeb" stroke-width="1.1"/>
<line x1="826.7" y1="378.2" x2="1439.8" y2="378.2" stroke="#ebebeb" stroke-width="1.1"/>
<path d="M890.3,300.6 C893.7,290.5 905.5,253.8 910.5,240 C915.5,226.2 916.3,226.2 920,217.8 C923.7,209.4 928,199 932.5,189.6 C937,180.2 941.6,170.6 947.2,161.3 C952.8,152.1 960.4,141.1 966,134.1 C971.6,127.1 975.4,123.8 980.6,119.5 C985.8,115.2 991.8,111.3 997.4,108 C1003,104.7 1009.9,101.4 1014.1,99.6 C1018.3,97.8 1016.9,97.6 1022.5,96.9 C1028.1,96.2 1041.3,95.9 1047.6,95.4 C1053.9,94.9 1055.9,94.7 1060.1,94 C1064.3,93.3 1067.5,93.1 1072.7,91.3 C1077.9,89.5 1085.6,85.9 1091.5,82.9 C1097.4,79.9 1103.5,75.8 1108.2,73.5 C1113,71.2 1115.9,70.8 1120,68.9 C1124.1,67 1128.4,63.5 1132.6,62 C1136.8,60.5 1140.9,60.1 1145.1,59.9 C1149.3,59.7 1153.5,60.8 1157.7,60.9 C1161.9,61 1166,60.5 1170.2,60.3 C1174.4,60.1 1178.6,60.7 1182.8,59.9 C1187,59.1 1191.1,56.8 1195.3,55.7 C1199.5,54.6 1204.4,53.9 1207.9,53.4 C1211.4,52.9 1212.5,52.9 1216.2,52.8 C1219.9,52.7 1219.4,52.6 1230,52.6 C1240.6,52.6 1256.8,52.6 1280,52.7 C1303.2,52.8 1354.2,53 1369,53" fill="none" stroke="#111" stroke-width="1.5"/>
<g fill="#f25c50"><circle cx="947.6" cy="142.7" r="2.5"/><circle cx="1042.3" cy="102.3" r="2.5"/><circle cx="1072.7" cy="115.3" r="2.5"/><circle cx="1091.1" cy="104.9" r="2.5"/><circle cx="1093" cy="119.1" r="2.5"/><circle cx="1094.2" cy="123.7" r="2.5"/><circle cx="1125.4" cy="97.5" r="2.5"/><circle cx="1127.1" cy="114.9" r="2.5"/><circle cx="1112.2" cy="131.2" r="2.5"/><circle cx="1123.7" cy="129.3" r="2.5"/><circle cx="1028.7" cy="134.8" r="2.5"/><circle cx="999.2" cy="142.5" r="2.5"/><circle cx="977.5" cy="158.8" r="2.5"/><circle cx="996.7" cy="160.1" r="2.5"/><circle cx="981.3" cy="173.9" r="2.5"/><circle cx="1025.6" cy="169.5" r="2.5"/><circle cx="1055.5" cy="153.4" r="2.5"/><circle cx="1079" cy="153" r="2.5"/><circle cx="1076" cy="159.5" r="2.5"/><circle cx="1095.9" cy="150.9" r="2.5"/><circle cx="1103.2" cy="150.3" r="2.5"/><circle cx="1111.6" cy="150.3" r="2.5"/><circle cx="1092.6" cy="165.5" r="2.5"/><circle cx="1091.7" cy="176.4" r="2.5"/><circle cx="1111.6" cy="174.1" r="2.5"/><circle cx="1057" cy="176.8" r="2.5"/><circle cx="1058.7" cy="185.8" r="2.5"/><circle cx="997.4" cy="181.6" r="2.5"/><circle cx="1009.9" cy="186.4" r="2.5"/><circle cx="958.5" cy="190" r="2.5"/><circle cx="1073.7" cy="196.7" r="2.5"/><circle cx="969.7" cy="207.4" r="2.5"/><circle cx="1029.8" cy="211.8" r="2.5"/><circle cx="1095.3" cy="208.6" r="2.5"/><circle cx="1039.8" cy="223.7" r="2.5"/><circle cx="1026" cy="236.2" r="2.5"/><circle cx="981.1" cy="241" r="2.5"/><circle cx="1131.7" cy="142.1" r="2.5"/><circle cx="1150.8" cy="67" r="2.5"/><circle cx="1138.2" cy="128.7" r="2.5"/><circle cx="1132.1" cy="161.1" r="2.5"/><circle cx="1147.6" cy="163.6" r="2.5"/><circle cx="1161.6" cy="132.9" r="2.5"/><circle cx="1180" cy="86" r="2.5"/><circle cx="1189.9" cy="81.2" r="2.5"/><circle cx="1177.7" cy="101.1" r="2.5"/><circle cx="1175.2" cy="107.8" r="2.5"/><circle cx="1206" cy="98.8" r="2.5"/><circle cx="1202.6" cy="108" r="2.5"/><circle cx="1203.1" cy="112.6" r="2.5"/><circle cx="1198.7" cy="129.3" r="2.5"/><circle cx="1180" cy="143.8" r="2.5"/><circle cx="1218.3" cy="67.2" r="2.5"/><circle cx="1221.9" cy="65.9" r="2.5"/><circle cx="1219.4" cy="71.2" r="2.5"/><circle cx="1237.4" cy="81.2" r="2.5"/><circle cx="1230.7" cy="101.7" r="2.5"/><circle cx="1224.6" cy="112" r="2.5"/><circle cx="1219.4" cy="124.5" r="2.5"/><circle cx="1226.1" cy="123.9" r="2.5"/><circle cx="1222.9" cy="138.3" r="2.5"/><circle cx="1214.6" cy="145.6" r="2.5"/><circle cx="1265.6" cy="61.5" r="2.5"/><circle cx="1258.9" cy="101.7" r="2.5"/><circle cx="1281.7" cy="81.8" r="2.5"/><circle cx="1294.5" cy="83.5" r="2.5"/><circle cx="1294.9" cy="95.6" r="2.5"/><circle cx="1310.4" cy="102.3" r="2.5"/><circle cx="1297.4" cy="133.5" r="2.5"/><circle cx="1307.7" cy="127.4" r="2.5"/><circle cx="1319" cy="121" r="2.5"/><circle cx="1319" cy="123.7" r="2.5"/><circle cx="1308.1" cy="144.8" r="2.5"/><circle cx="1239.5" cy="168.2" r="2.5"/><circle cx="1240.5" cy="171.8" r="2.5"/><circle cx="1200.1" cy="182.9" r="2.5"/><circle cx="1170" cy="192.5" r="2.5"/><circle cx="1162.1" cy="196.5" r="2.5"/><circle cx="1154.9" cy="223.7" r="2.5"/><circle cx="1017.3" cy="245.4" r="2.5"/><circle cx="975.8" cy="257.4" r="2.5"/><circle cx="914.4" cy="265.2" r="2.5"/><circle cx="999.3" cy="280.1" r="2.5"/><circle cx="1094.1" cy="287.3" r="2.5"/><circle cx="1131.5" cy="282" r="2.5"/><circle cx="882.7" cy="374.5" r="2.5"/><circle cx="1003.5" cy="369.6" r="2.5"/><circle cx="1106" cy="396.6" r="2.5"/><circle cx="952.4" cy="433.8" r="2.5"/><circle cx="1239.6" cy="257.6" r="2.5"/></g>
<g font-size="5.7" font-weight="bold"><text x="945" y="139.4" fill="#1c1c8c">Uganda</text><text x="1020" y="99.2" fill="#1c1c8c">Nicaragua</text><text x="1054.9" y="113.6" fill="#1c1c8c">Dominican Republic</text><text x="1052.2" y="125.1" fill="#1c1c8c">Eswatini</text><text x="1040.9" y="220.3" fill="#111">Kenya</text><text x="1020.4" y="232.9" fill="#111">Mauritania</text><text x="1182.1" y="178.5" fill="#111">United Arab Emirates</text><text x="1165.4" y="188.5" fill="#111">Seychelles</text><text x="1143.4" y="205.3" fill="#111">Bahrain</text><text x="1136.1" y="232.5" fill="#111">Albania</text><text x="982.5" y="253.9" fill="#111">Papua New Guinea</text><text x="957.2" y="266.1" fill="#111">Gambia</text><text x="943.4" y="276.9" fill="#111">Democratic Republic of the Congo</text><text x="1031.7" y="296" fill="#111">Democratic People's Republic of Korea</text><text x="881.8" y="371" fill="#1c1c8c">Somalia</text><text x="978.4" y="378.4" fill="#111">Bangladesh</text><text x="1101.5" y="393.3" fill="#111">Indonesia</text><text x="952.4" y="430.6" fill="#111">Yemen</text><text x="1124.6" y="278.3" fill="#111">Philippines</text><text x="1236.6" y="253.9" fill="#111">Bahamas</text></g>
<circle cx="1459.2" cy="250.3" r="2.5" fill="#f25c50"/>
<rect x="826.7" y="34.4" width="613.1" height="418.8" fill="none" stroke="#707070" stroke-width="1.1"/>
<line x1="854.4" y1="453.2" x2="854.4" y2="455.2" stroke="#333" stroke-width="1"/>
<text x="854.4" y="463.8" font-size="9" fill="#3a3a3a" text-anchor="middle" textLength="10.3" lengthAdjust="spacingAndGlyphs">0.0</text>
<line x1="965.8" y1="453.2" x2="965.8" y2="455.2" stroke="#333" stroke-width="1"/>
<text x="965.8" y="463.8" font-size="9" fill="#3a3a3a" text-anchor="middle" textLength="10.3" lengthAdjust="spacingAndGlyphs">0.2</text>
<line x1="1077.2" y1="453.2" x2="1077.2" y2="455.2" stroke="#333" stroke-width="1"/>
<text x="1077.2" y="463.8" font-size="9" fill="#3a3a3a" text-anchor="middle" textLength="10.3" lengthAdjust="spacingAndGlyphs">0.4</text>
<line x1="1188.5" y1="453.2" x2="1188.5" y2="455.2" stroke="#333" stroke-width="1"/>
<text x="1188.5" y="463.8" font-size="9" fill="#3a3a3a" text-anchor="middle" textLength="10.3" lengthAdjust="spacingAndGlyphs">0.6</text>
<line x1="1299.9" y1="453.2" x2="1299.9" y2="455.2" stroke="#333" stroke-width="1"/>
<text x="1299.9" y="463.8" font-size="9" fill="#3a3a3a" text-anchor="middle" textLength="10.3" lengthAdjust="spacingAndGlyphs">0.8</text>
<line x1="1411.3" y1="453.2" x2="1411.3" y2="455.2" stroke="#333" stroke-width="1"/>
<text x="1411.3" y="463.8" font-size="9" fill="#3a3a3a" text-anchor="middle" textLength="10.3" lengthAdjust="spacingAndGlyphs">1.0</text>
<line x1="824.7" y1="122.8" x2="826.7" y2="122.8" stroke="#333" stroke-width="1"/>
<text x="822.3" y="126.6" font-size="8.7" fill="#3a3a3a" text-anchor="end" textLength="16.5" lengthAdjust="spacingAndGlyphs">1000</text>
<line x1="824.7" y1="250.5" x2="826.7" y2="250.5" stroke="#333" stroke-width="1"/>
<text x="822.3" y="254.3" font-size="8.7" fill="#3a3a3a" text-anchor="end" textLength="16.5" lengthAdjust="spacingAndGlyphs">2000</text>
<line x1="824.7" y1="378.2" x2="826.7" y2="378.2" stroke="#333" stroke-width="1"/>
<text x="822.3" y="382" font-size="8.7" fill="#3a3a3a" text-anchor="end" textLength="16.5" lengthAdjust="spacingAndGlyphs">3000</text>
<text x="1133.2" y="474.1" font-size="9.4" fill="#222" text-anchor="middle" textLength="14.4" lengthAdjust="spacingAndGlyphs">SDI</text>
<text x="802.8" y="244.3" font-size="9.4" fill="#222" text-anchor="middle" textLength="19.1" lengthAdjust="spacingAndGlyphs" transform="rotate(-90 802.8 244.3)">ASR</text>
<line x1="182" y1="489.6" x2="182" y2="910.5" stroke="#eeeeee" stroke-width="0.9"/>
<line x1="290.2" y1="489.6" x2="290.2" y2="910.5" stroke="#eeeeee" stroke-width="0.9"/>
<line x1="398.3" y1="489.6" x2="398.3" y2="910.5" stroke="#eeeeee" stroke-width="0.9"/>
<line x1="506.5" y1="489.6" x2="506.5" y2="910.5" stroke="#eeeeee" stroke-width="0.9"/>
<line x1="614.7" y1="489.6" x2="614.7" y2="910.5" stroke="#eeeeee" stroke-width="0.9"/>
<line x1="101.3" y1="887.4" x2="682.5" y2="887.4" stroke="#eeeeee" stroke-width="0.9"/>
<line x1="101.3" y1="813.2" x2="682.5" y2="813.2" stroke="#eeeeee" stroke-width="0.9"/>
<line x1="101.3" y1="738.9" x2="682.5" y2="738.9" stroke="#eeeeee" stroke-width="0.9"/>
<line x1="101.3" y1="664.6" x2="682.5" y2="664.6" stroke="#eeeeee" stroke-width="0.9"/>
<line x1="101.3" y1="590.3" x2="682.5" y2="590.3" stroke="#eeeeee" stroke-width="0.9"/>
<line x1="101.3" y1="516.1" x2="682.5" y2="516.1" stroke="#eeeeee" stroke-width="0.9"/>
<line x1="127.9" y1="489.6" x2="127.9" y2="910.5" stroke="#ebebeb" stroke-width="1.1"/>
<line x1="236.1" y1="489.6" x2="236.1" y2="910.5" stroke="#ebebeb" stroke-width="1.1"/>
<line x1="344.2" y1="489.6" x2="344.2" y2="910.5" stroke="#ebebeb" stroke-width="1.1"/>
<line x1="452.4" y1="489.6" x2="452.4" y2="910.5" stroke="#ebebeb" stroke-width="1.1"/>
<line x1="560.6" y1="489.6" x2="560.6" y2="910.5" stroke="#ebebeb" stroke-width="1.1"/>
<line x1="668.8" y1="489.6" x2="668.8" y2="910.5" stroke="#ebebeb" stroke-width="1.1"/>
<line x1="101.3" y1="850.3" x2="682.5" y2="850.3" stroke="#ebebeb" stroke-width="1.1"/>
<line x1="101.3" y1="776" x2="682.5" y2="776" stroke="#ebebeb" stroke-width="1.1"/>
<line x1="101.3" y1="701.8" x2="682.5" y2="701.8" stroke="#ebebeb" stroke-width="1.1"/>
<line x1="101.3" y1="627.5" x2="682.5" y2="627.5" stroke="#ebebeb" stroke-width="1.1"/>
<line x1="101.3" y1="553.2" x2="682.5" y2="553.2" stroke="#ebebeb" stroke-width="1.1"/>
<path d="M127.9,792.1 L138.7,793.8 L149.5,795.4 L160.4,797.1 L171.2,798.7 L182,800.3 L192.8,801.9 L203.6,803.5 L214.4,805 L225.3,806.5 L236.1,808.1 L246.9,809.6 L257.7,811 L268.5,812.5 L279.3,813.9 L290.2,815.4 L301,816.8 L311.8,818.2 L322.6,819.6 L333.4,820.9 L344.2,822.3 L355.1,823.6 L365.9,824.9 L376.7,826.2 L387.5,827.4 L398.3,828.7 L409.2,829.9 L420,831.2 L430.8,832.4 L441.6,833.5 L452.4,834.7 L463.2,835.9 L474.1,837 L484.9,838.1 L495.7,839.2 L506.5,840.3 L517.3,841.3 L528.1,842.4 L539,843.4 L549.8,844.4 L560.6,845.4 L560.6,861.4 L549.8,859.7 L539,858.1 L528.1,856.4 L517.3,854.8 L506.5,853.2 L495.7,851.6 L484.9,850.1 L474.1,848.5 L463.2,847 L452.4,845.5 L441.6,844 L430.8,842.5 L420,841 L409.2,839.6 L398.3,838.1 L387.5,836.7 L376.7,835.3 L365.9,834 L355.1,832.6 L344.2,831.3 L333.4,829.9 L322.6,828.6 L311.8,827.3 L301,826.1 L290.2,824.8 L279.3,823.6 L268.5,822.4 L257.7,821.1 L246.9,820 L236.1,818.8 L225.3,817.6 L214.4,816.5 L203.6,815.4 L192.8,814.3 L182,813.2 L171.2,812.2 L160.4,811.1 L149.5,810.1 L138.7,809.1 L127.9,808.1Z" fill="#b08080" fill-opacity="0.22"/>
<path d="M127.9,709.4 L138.7,713.8 L149.5,718.2 L160.4,722.6 L171.2,727 L182,731.4 L192.8,735.7 L203.6,740 L214.4,744.3 L225.3,748.5 L236.1,752.8 L246.9,757 L257.7,761.2 L268.5,765.4 L279.3,769.6 L290.2,773.7 L301,777.9 L311.8,782 L322.6,786.1 L333.4,790.1 L344.2,794.2 L355.1,798.2 L365.9,802.2 L376.7,806.2 L387.5,810.2 L398.3,814.1 L409.2,818.1 L420,822 L430.8,825.9 L441.6,829.7 L452.4,833.6 L463.2,837.4 L474.1,841.2 L484.9,845 L495.7,848.8 L506.5,852.5 L517.3,856.2 L528.1,860 L539,863.6 L549.8,867.3 L560.6,871 L560.6,889 L549.8,884.5 L539,880.1 L528.1,875.8 L517.3,871.4 L506.5,867 L495.7,862.7 L484.9,858.4 L474.1,854.1 L463.2,849.8 L452.4,845.6 L441.6,841.4 L430.8,837.1 L420,833 L409.2,828.8 L398.3,824.6 L387.5,820.5 L376.7,816.4 L365.9,812.3 L355.1,808.2 L344.2,804.2 L333.4,800.2 L322.6,796.1 L311.8,792.2 L301,788.2 L290.2,784.2 L279.3,780.3 L268.5,776.4 L257.7,772.5 L246.9,768.6 L236.1,764.8 L225.3,761 L214.4,757.1 L203.6,753.4 L192.8,749.6 L182,745.8 L171.2,742.1 L160.4,738.4 L149.5,734.7 L138.7,731 L127.9,727.4Z" fill="#8080ee" fill-opacity="0.25"/>
<line x1="127.9" y1="718.6" x2="560.6" y2="718.6" stroke="#3a3aff" stroke-width="1.5" stroke-dasharray="4.2 3.6"/>
<line x1="127.9" y1="799.4" x2="560.6" y2="799.4" stroke="#a0645c" stroke-width="1.5" stroke-dasharray="4.2 3.6"/>
<g fill="#9a5a52"><circle cx="128.7" cy="681.3" r="1.25"/><circle cx="467.3" cy="576.2" r="1.25"/><circle cx="128.9" cy="681.6" r="1.25"/><circle cx="160.8" cy="690.7" r="1.25"/><circle cx="180.8" cy="696.5" r="1.25"/><circle cx="199.9" cy="700.2" r="1.25"/><circle cx="133.5" cy="711.5" r="1.25"/><circle cx="129.7" cy="715.3" r="1.25"/><circle cx="130.6" cy="730.8" r="1.25"/><circle cx="131.5" cy="739" r="1.25"/><circle cx="181.4" cy="737.1" r="1.25"/><circle cx="163.5" cy="741.8" r="1.25"/><circle cx="146.6" cy="749.7" r="1.25"/><circle cx="154.1" cy="758.7" r="1.25"/><circle cx="224.8" cy="765.6" r="1.25"/><circle cx="195.1" cy="770.6" r="1.25"/><circle cx="155.5" cy="780.3" r="1.25"/><circle cx="134.1" cy="788.1" r="1.25"/><circle cx="152.6" cy="790.1" r="1.25"/><circle cx="182.1" cy="785.8" r="1.25"/><circle cx="132.8" cy="796" r="1.25"/><circle cx="146.3" cy="796.6" r="1.25"/><circle cx="154.1" cy="794.4" r="1.25"/><circle cx="477.4" cy="748.1" r="1.25"/><circle cx="468.5" cy="795.3" r="1.25"/><circle cx="490.7" cy="763.2" r="1.25"/><circle cx="132.8" cy="796.1" r="1.25"/><circle cx="146.3" cy="796.5" r="1.25"/><circle cx="153.8" cy="794.6" r="1.25"/><circle cx="137.1" cy="805.9" r="1.25"/><circle cx="145" cy="807.2" r="1.25"/><circle cx="145.6" cy="814.5" r="1.25"/><circle cx="162.2" cy="814.5" r="1.25"/><circle cx="153.4" cy="826.9" r="1.25"/><circle cx="183" cy="810.8" r="1.25"/><circle cx="184.9" cy="814.1" r="1.25"/><circle cx="218.8" cy="809.2" r="1.25"/><circle cx="223.1" cy="823.2" r="1.25"/><circle cx="193.2" cy="830.7" r="1.25"/><circle cx="197.3" cy="830.1" r="1.25"/><circle cx="194.7" cy="833.3" r="1.25"/><circle cx="168.1" cy="835" r="1.25"/><circle cx="168.1" cy="838.9" r="1.25"/><circle cx="180.5" cy="835.6" r="1.25"/><circle cx="196" cy="839.9" r="1.25"/><circle cx="146.5" cy="843.7" r="1.25"/><circle cx="135.2" cy="848.9" r="1.25"/><circle cx="217.9" cy="854.8" r="1.25"/><circle cx="218.3" cy="860.7" r="1.25"/><circle cx="196" cy="865.6" r="1.25"/><circle cx="225.7" cy="865.3" r="1.25"/><circle cx="214.3" cy="878.6" r="1.25"/><circle cx="381.2" cy="798.1" r="1.25"/><circle cx="313.7" cy="812.1" r="1.25"/><circle cx="319.7" cy="815.4" r="1.25"/><circle cx="303" cy="824.9" r="1.25"/><circle cx="324.1" cy="828" r="1.25"/><circle cx="369.1" cy="829.3" r="1.25"/><circle cx="303.9" cy="835.6" r="1.25"/><circle cx="303.9" cy="843.4" r="1.25"/><circle cx="312.1" cy="843.4" r="1.25"/><circle cx="306.5" cy="846.9" r="1.25"/><circle cx="320.6" cy="849.9" r="1.25"/><circle cx="324.1" cy="851.9" r="1.25"/><circle cx="338.2" cy="851.9" r="1.25"/><circle cx="324.1" cy="858" r="1.25"/><circle cx="370" cy="848.2" r="1.25"/><circle cx="381.9" cy="845.6" r="1.25"/><circle cx="374.7" cy="857.8" r="1.25"/><circle cx="303.9" cy="861.7" r="1.25"/><circle cx="348.6" cy="862.7" r="1.25"/><circle cx="370" cy="865.6" r="1.25"/><circle cx="304.6" cy="867.8" r="1.25"/><circle cx="337.6" cy="871.7" r="1.25"/><circle cx="304.6" cy="875.3" r="1.25"/><circle cx="303.9" cy="879.9" r="1.25"/><circle cx="381.9" cy="875.6" r="1.25"/><circle cx="468.5" cy="795.2" r="1.25"/><circle cx="473.5" cy="804.3" r="1.25"/><circle cx="471.5" cy="815.4" r="1.25"/><circle cx="471.8" cy="821.9" r="1.25"/><circle cx="473.5" cy="827.1" r="1.25"/><circle cx="477.6" cy="835" r="1.25"/><circle cx="486.1" cy="806.9" r="1.25"/><circle cx="471.8" cy="846" r="1.25"/><circle cx="478.3" cy="853.8" r="1.25"/><circle cx="478.3" cy="857.5" r="1.25"/><circle cx="485.4" cy="868.2" r="1.25"/><circle cx="465.2" cy="877.6" r="1.25"/><circle cx="466.9" cy="881.2" r="1.25"/><circle cx="467.8" cy="887.7" r="1.25"/><circle cx="486.1" cy="857.8" r="1.25"/><circle cx="485.4" cy="873.4" r="1.25"/><circle cx="497.1" cy="803.8" r="1.25"/><circle cx="519.1" cy="805.5" r="1.25"/><circle cx="507.8" cy="812" r="1.25"/><circle cx="530" cy="813.6" r="1.25"/><circle cx="544.8" cy="805.7" r="1.25"/><circle cx="554.8" cy="813.6" r="1.25"/><circle cx="554.2" cy="819.9" r="1.25"/><circle cx="559.8" cy="825.4" r="1.25"/><circle cx="553.9" cy="830" r="1.25"/><circle cx="555.4" cy="834" r="1.25"/><circle cx="490.8" cy="821.8" r="1.25"/><circle cx="499.9" cy="829.8" r="1.25"/><circle cx="519.9" cy="834" r="1.25"/><circle cx="539.1" cy="841.9" r="1.25"/><circle cx="547.7" cy="849.6" r="1.25"/><circle cx="539.8" cy="855.9" r="1.25"/><circle cx="505.3" cy="865" r="1.25"/><circle cx="507.8" cy="858.4" r="1.25"/><circle cx="514" cy="871" r="1.25"/><circle cx="490.2" cy="883.9" r="1.25"/><circle cx="486.2" cy="857.8" r="1.25"/><circle cx="485.4" cy="873.5" r="1.25"/></g>
<g fill="#b87474" stroke="#a25252" stroke-width="0.9"><circle cx="361.6" cy="678.3" r="3.0"/><circle cx="174.9" cy="702.1" r="2.2"/><circle cx="213.6" cy="715.6" r="1.9000000000000001"/><circle cx="149.9" cy="746.4" r="2.7"/><circle cx="142" cy="756" r="3.2"/><circle cx="206.2" cy="752.6" r="4.2"/><circle cx="137.5" cy="791.7" r="2.2"/><circle cx="189.3" cy="788.4" r="3.7"/><circle cx="198.8" cy="787.1" r="1.7"/><circle cx="216" cy="797.9" r="1.7"/><circle cx="309.9" cy="777.3" r="1.9000000000000001"/><circle cx="316.8" cy="781.5" r="1.9000000000000001"/><circle cx="511.5" cy="776.5" r="2.2"/><circle cx="137.5" cy="791.6" r="2.2"/><circle cx="216" cy="798.1" r="2.2"/><circle cx="159.3" cy="819.3" r="1.7"/><circle cx="220.8" cy="832.7" r="2.2"/><circle cx="157.7" cy="845.6" r="2.2"/><circle cx="164.9" cy="846.5" r="2.2"/><circle cx="343.2" cy="806.7" r="1.9000000000000001"/><circle cx="376.3" cy="802.6" r="2.2"/><circle cx="352.2" cy="824.1" r="2.2"/><circle cx="373.1" cy="822.2" r="2.2"/><circle cx="379.4" cy="852.2" r="1.7"/><circle cx="323.5" cy="872.7" r="1.7"/><circle cx="330.8" cy="875.6" r="3.7"/><circle cx="464.6" cy="821.3" r="2.2"/><circle cx="481.5" cy="841.5" r="2.2"/><circle cx="486.7" cy="818.7" r="2.2"/><circle cx="475" cy="868.2" r="2.2"/><circle cx="529.7" cy="860.3" r="4.2"/><circle cx="543.5" cy="869.7" r="3.2"/><circle cx="549.2" cy="862.2" r="1.7"/><circle cx="558" cy="837.7" r="2.2"/><circle cx="516.5" cy="818.3" r="2.2"/><circle cx="482" cy="841.5" r="2.2"/><circle cx="464.5" cy="821.2" r="2.2"/><circle cx="500.9" cy="867.2" r="2.2"/><circle cx="486.4" cy="818.9" r="2.2"/><circle cx="264.7" cy="624.1" r="7.7"/><circle cx="422.2" cy="774.1" r="7.5"/></g>
<g fill="#2626ff"><circle cx="138.7" cy="514.1" r="1.25"/><circle cx="179.5" cy="508.2" r="1.25"/><circle cx="174.9" cy="519.1" r="1.25"/><circle cx="146" cy="605.3" r="1.25"/><circle cx="127.2" cy="612.4" r="1.25"/><circle cx="174.9" cy="624.1" r="1.25"/><circle cx="174.9" cy="629.6" r="1.25"/><circle cx="128.2" cy="640" r="1.25"/><circle cx="141.6" cy="641.1" r="1.25"/><circle cx="139.8" cy="645.3" r="1.25"/><circle cx="164.9" cy="654.5" r="1.25"/><circle cx="131" cy="667.4" r="1.25"/><circle cx="164.4" cy="672.3" r="1.25"/><circle cx="156.5" cy="686.5" r="1.25"/><circle cx="432.5" cy="623.9" r="1.25"/><circle cx="156.7" cy="686.3" r="1.25"/><circle cx="130.2" cy="692" r="1.25"/><circle cx="143.8" cy="693.7" r="1.25"/><circle cx="146.6" cy="695.6" r="1.25"/><circle cx="140.1" cy="707.4" r="1.25"/><circle cx="143" cy="711.3" r="1.25"/><circle cx="186.6" cy="722.1" r="1.25"/><circle cx="188.9" cy="725.9" r="1.25"/><circle cx="178.6" cy="727.7" r="1.25"/><circle cx="142" cy="733.8" r="1.25"/><circle cx="146.6" cy="733.8" r="1.25"/><circle cx="137.5" cy="735" r="1.25"/><circle cx="142" cy="738.6" r="1.25"/><circle cx="286.3" cy="706.1" r="1.25"/><circle cx="259.6" cy="746.4" r="1.25"/><circle cx="264.4" cy="747.4" r="1.25"/><circle cx="265.2" cy="752.7" r="1.25"/><circle cx="283.7" cy="749.7" r="1.25"/><circle cx="138.2" cy="749.7" r="1.25"/><circle cx="165.8" cy="750.5" r="1.25"/><circle cx="175" cy="758.7" r="1.25"/><circle cx="129.7" cy="765.5" r="1.25"/><circle cx="143.9" cy="766" r="1.25"/><circle cx="186.9" cy="772.5" r="1.25"/><circle cx="158" cy="776.4" r="1.5"/><circle cx="175" cy="776.2" r="1.25"/><circle cx="263.8" cy="776" r="1.25"/><circle cx="272.4" cy="775.8" r="1.25"/><circle cx="139.1" cy="783.6" r="1.25"/><circle cx="137.1" cy="785.5" r="1.25"/><circle cx="143.9" cy="787.9" r="1.25"/><circle cx="178.6" cy="784.9" r="1.25"/><circle cx="178.6" cy="788.8" r="1.25"/><circle cx="162.5" cy="792.8" r="1.25"/><circle cx="272.8" cy="790.7" r="1.25"/><circle cx="449" cy="715.2" r="1.25"/><circle cx="445.8" cy="755" r="1.25"/><circle cx="384.6" cy="767.9" r="1.25"/><circle cx="447.7" cy="770.6" r="1.25"/><circle cx="384.6" cy="782.5" r="1.25"/><circle cx="400.1" cy="782.5" r="1.25"/><circle cx="384.1" cy="797.5" r="1.25"/><circle cx="487" cy="777.1" r="1.25"/><circle cx="162.8" cy="792.9" r="1.25"/><circle cx="187.7" cy="804.3" r="1.25"/><circle cx="187.7" cy="821" r="1.25"/><circle cx="178.6" cy="841.9" r="1.25"/><circle cx="272.9" cy="791" r="1.25"/><circle cx="283.7" cy="798.9" r="1.25"/><circle cx="283" cy="805.4" r="1.25"/><circle cx="263.8" cy="810.8" r="1.25"/><circle cx="265.5" cy="815.4" r="1.25"/><circle cx="262.5" cy="818.7" r="1.25"/><circle cx="273.7" cy="814.5" r="1.25"/><circle cx="284.8" cy="833.9" r="1.25"/><circle cx="271.1" cy="836.5" r="1.25"/><circle cx="258" cy="841.1" r="1.25"/><circle cx="261.2" cy="845.6" r="1.25"/><circle cx="283.7" cy="842.8" r="1.25"/><circle cx="283.7" cy="848.2" r="1.25"/><circle cx="283.7" cy="852.9" r="1.25"/><circle cx="265.5" cy="856.7" r="1.25"/><circle cx="383.8" cy="797.8" r="1.25"/><circle cx="409.6" cy="803" r="1.25"/><circle cx="428.8" cy="800.2" r="1.25"/><circle cx="436.6" cy="790" r="1.25"/><circle cx="400.5" cy="810.2" r="1.25"/><circle cx="452.9" cy="805.6" r="1.25"/><circle cx="462.4" cy="801.7" r="1.25"/><circle cx="461.7" cy="806.9" r="1.25"/><circle cx="452.9" cy="810.8" r="1.25"/><circle cx="452.9" cy="814.5" r="1.25"/><circle cx="445.7" cy="815.4" r="1.25"/><circle cx="382.5" cy="818.7" r="1.25"/><circle cx="400.1" cy="822.6" r="1.25"/><circle cx="423.5" cy="821.9" r="1.25"/><circle cx="445.7" cy="824.5" r="1.25"/><circle cx="462.4" cy="817.4" r="1.25"/><circle cx="461.7" cy="827.8" r="1.25"/><circle cx="457.4" cy="829.7" r="1.25"/><circle cx="486.7" cy="822.6" r="1.25"/><circle cx="448" cy="831.4" r="1.25"/><circle cx="428.1" cy="837.2" r="1.25"/><circle cx="445.7" cy="838.5" r="1.25"/><circle cx="400.1" cy="844.7" r="1.25"/><circle cx="409.9" cy="844.7" r="1.25"/><circle cx="445.7" cy="856.7" r="1.25"/><circle cx="462.4" cy="855.8" r="1.25"/><circle cx="471.1" cy="856.4" r="1.25"/><circle cx="400.1" cy="869.5" r="1.25"/><circle cx="447" cy="863.6" r="1.25"/><circle cx="449.6" cy="864.9" r="1.25"/><circle cx="447" cy="868.2" r="1.25"/><circle cx="446.3" cy="872.7" r="1.25"/><circle cx="454.2" cy="871.4" r="1.25"/><circle cx="457.4" cy="874" r="1.25"/><circle cx="457.4" cy="877.3" r="1.25"/><circle cx="463.7" cy="869.5" r="1.25"/><circle cx="460.7" cy="872.1" r="1.25"/><circle cx="477" cy="870.1" r="1.25"/><circle cx="479.6" cy="874" r="1.25"/><circle cx="477.4" cy="879.9" r="1.25"/><circle cx="481.3" cy="881.2" r="1.25"/><circle cx="486.1" cy="883.2" r="1.25"/><circle cx="481.3" cy="885.8" r="1.25"/><circle cx="475.7" cy="887.1" r="1.25"/><circle cx="459.4" cy="888" r="1.25"/><circle cx="477.6" cy="891.4" r="1.25"/><circle cx="486.8" cy="776.9" r="1.25"/><circle cx="510.3" cy="835.8" r="1.25"/><circle cx="516.8" cy="837.3" r="1.25"/><circle cx="516.8" cy="844.9" r="1.25"/><circle cx="537.9" cy="838.4" r="1.25"/><circle cx="537.9" cy="842.4" r="1.25"/><circle cx="552.1" cy="838" r="1.25"/><circle cx="553" cy="842.7" r="1.25"/><circle cx="553" cy="848.4" r="1.25"/><circle cx="559.8" cy="848.4" r="1.25"/><circle cx="509" cy="850.9" r="1.25"/><circle cx="504.6" cy="886" r="1.25"/><circle cx="499.6" cy="877.9" r="1.25"/><circle cx="495.2" cy="857.8" r="1.25"/><circle cx="499" cy="862.2" r="1.25"/><circle cx="520.3" cy="857.8" r="1.25"/><circle cx="522.8" cy="866.6" r="1.25"/><circle cx="525" cy="888.9" r="1.25"/><circle cx="539.1" cy="892.9" r="1.25"/><circle cx="539.8" cy="861.6" r="1.25"/><circle cx="486.7" cy="817" r="1.25"/><circle cx="486.7" cy="822.7" r="1.25"/><circle cx="485.8" cy="883.3" r="1.25"/></g>
<g fill="#3232ff" stroke="#2020e0" stroke-width="0.9"><circle cx="170.5" cy="620.4" r="2.3000000000000003"/><circle cx="151.3" cy="637.1" r="2.3000000000000003"/><circle cx="159.4" cy="654.5" r="1.7"/><circle cx="133.9" cy="671.6" r="1.7"/><circle cx="392.1" cy="682.1" r="2.5"/><circle cx="183.6" cy="716.1" r="2.2"/><circle cx="268.7" cy="738.2" r="2.2"/><circle cx="176.9" cy="751.4" r="1.9000000000000001"/><circle cx="427.1" cy="727.2" r="1.9999999999999998"/><circle cx="436.3" cy="788.5" r="1.9999999999999998"/><circle cx="280.2" cy="801.7" r="2.2"/><circle cx="275.5" cy="805.4" r="2.2"/><circle cx="442.2" cy="808.9" r="2.2"/><circle cx="451.6" cy="835.6" r="1.7"/><circle cx="470.5" cy="837.2" r="2.2"/><circle cx="404" cy="851" r="2.2"/><circle cx="456.1" cy="861.9" r="1.9000000000000001"/><circle cx="466.9" cy="864.5" r="1.9000000000000001"/><circle cx="473.9" cy="864.5" r="1.9000000000000001"/><circle cx="484.8" cy="868.2" r="2.2"/><circle cx="415.7" cy="864.9" r="1.9000000000000001"/><circle cx="407.7" cy="867.8" r="1.9000000000000001"/><circle cx="494" cy="872.6" r="2.2"/><circle cx="527.8" cy="872.2" r="2.7"/><circle cx="557.1" cy="861.6" r="1.9000000000000001"/><circle cx="508" cy="803" r="2.2"/><circle cx="501.5" cy="830" r="1.9000000000000001"/><circle cx="513.8" cy="832.7" r="1.9000000000000001"/><circle cx="484.5" cy="868.2" r="2.2"/><circle cx="223.5" cy="563.9" r="6.4"/><circle cx="334.6" cy="802" r="6.9"/></g>
<line x1="127.9" y1="800.1" x2="560.6" y2="853.4" stroke="#a0605a" stroke-width="1.4"/>
<line x1="127.9" y1="718.4" x2="560.6" y2="880" stroke="#2a2aff" stroke-width="1.4"/>
<g font-size="9.6" fill="#a4665e"><text x="265.3" y="638.6">India</text><text x="160.6" y="705.7">Yemen</text><text x="129.7" y="729.3">Niger</text><text x="197.1" y="844.5">Zambia</text><text x="351.6" y="838.2">Egypt</text><text x="422.2" y="788.1">China</text><text x="379.6" y="867.1">South Africa</text><text x="331" y="891">Brazil</text></g>
<g font-size="9.6" fill="#3333ff"><text x="138.7" y="528.1">Yemen</text><text x="223.9" y="578.3">India</text><text x="128.7" y="654.3">Niger</text><text x="178.8" y="799.8">Zambia</text><text x="275.9" y="819.3">Egypt</text><text x="335" y="817.4">China</text><text x="416.1" y="879">Brazil</text><text x="452" y="849.3">South Africa</text></g>
<text x="637.9" y="875.4" font-size="9.6" fill="#a4665e" text-anchor="end">United States of America</text>
<text x="501.5" y="880.4" font-size="9.6" fill="#a4665e">Russian Federation</text>
<text x="494" y="886.4" font-size="9.6" fill="#3333ff">Russian Federation</text>
<text x="637.3" y="886.1" font-size="9.6" fill="#3333ff" text-anchor="end">United States of America</text>
<path d="M561,718.6 L570,718.6 Q584,718.6 584,732.6 L584,785.3 Q584,799.3 605,799.3 Q584,799.3 584,813.3 L584,866.0 Q584,880.0 570,880.0 L561,880.0" fill="none" stroke="#333" stroke-width="1.3"/>
<path d="M561,799.4 L570,799.4 Q584,799.4 584,813.4 L584,813.2 Q584,827.2 603.5,827.2 Q584,827.2 584,841.2 L584,841.0 Q584,855.0 570,855.0 L561,855.0" fill="none" stroke="#333" stroke-width="1.3"/>
<rect x="702.3" y="595" width="20.5" height="21" fill="#e4e4fa"/>
<rect x="702.3" y="616" width="20.5" height="20.5" fill="#efe5e5"/>
<line x1="702.3" y1="605.5" x2="722.8" y2="605.5" stroke="#2a2aff" stroke-width="1.4"/><circle cx="712.5" cy="605.5" r="2" fill="#2a2aff"/>
<text x="712.5" y="612" font-size="7" fill="#2a2aff" text-anchor="middle">a</text>
<line x1="702.3" y1="626.9" x2="722.8" y2="626.9" stroke="#a0605a" stroke-width="1.4"/><circle cx="712.5" cy="626.9" r="2" fill="#9a5a52"/>
<text x="712.5" y="633.4" font-size="7" fill="#a0605a" text-anchor="middle">a</text>
<circle cx="712.4" cy="710" r="2.4" fill="none" stroke="#333" stroke-width="1.1"/>
<circle cx="712.4" cy="731" r="3.4" fill="none" stroke="#333" stroke-width="1.1"/>
<circle cx="712.4" cy="751.6" r="4.6" fill="none" stroke="#333" stroke-width="1.1"/>
<circle cx="712.4" cy="772.5" r="5.8" fill="none" stroke="#333" stroke-width="1.1"/>
<circle cx="712.4" cy="794.3" r="6.6" fill="none" stroke="#333" stroke-width="1.1"/>
<circle cx="712.4" cy="815.4" r="7.5" fill="none" stroke="#333" stroke-width="1.1"/>
<rect x="66.8" y="715" width="11.7" height="39.4" fill="#f3f3f3"/>
<rect x="101.3" y="489.6" width="581.2" height="420.9" fill="none" stroke="#333" stroke-width="1.3"/>
<line x1="127.9" y1="910.5" x2="127.9" y2="913.7" stroke="#333" stroke-width="1"/>
<text x="127.9" y="927.3" font-size="12.7" fill="#444" text-anchor="middle" textLength="6.1" lengthAdjust="spacingAndGlyphs">0</text>
<line x1="236.1" y1="910.5" x2="236.1" y2="913.7" stroke="#333" stroke-width="1"/>
<text x="236.1" y="927.3" font-size="12.7" fill="#444" text-anchor="middle" textLength="21.4" lengthAdjust="spacingAndGlyphs">0.25</text>
<line x1="344.2" y1="910.5" x2="344.2" y2="913.7" stroke="#333" stroke-width="1"/>
<text x="344.2" y="927.3" font-size="12.7" fill="#444" text-anchor="middle" textLength="21.4" lengthAdjust="spacingAndGlyphs">0.50</text>
<line x1="452.4" y1="910.5" x2="452.4" y2="913.7" stroke="#333" stroke-width="1"/>
<text x="452.4" y="927.3" font-size="12.7" fill="#444" text-anchor="middle" textLength="21.4" lengthAdjust="spacingAndGlyphs">0.75</text>
<line x1="560.6" y1="910.5" x2="560.6" y2="913.7" stroke="#333" stroke-width="1"/>
<text x="560.6" y="927.3" font-size="12.7" fill="#444" text-anchor="middle" textLength="21.4" lengthAdjust="spacingAndGlyphs">1.00</text>
<line x1="668.8" y1="910.5" x2="668.8" y2="913.7" stroke="#333" stroke-width="1"/>
<line x1="98.1" y1="850.3" x2="101.3" y2="850.3" stroke="#333" stroke-width="1"/>
<text x="94" y="854.9" font-size="12.2" fill="#444" text-anchor="end" textLength="24.7" lengthAdjust="spacingAndGlyphs">1000</text>
<line x1="98.1" y1="776" x2="101.3" y2="776" stroke="#333" stroke-width="1"/>
<text x="94" y="780.6" font-size="12.2" fill="#444" text-anchor="end" textLength="24.7" lengthAdjust="spacingAndGlyphs">2000</text>
<line x1="98.1" y1="701.8" x2="101.3" y2="701.8" stroke="#333" stroke-width="1"/>
<text x="94" y="706.4" font-size="12.2" fill="#444" text-anchor="end" textLength="24.7" lengthAdjust="spacingAndGlyphs">3000</text>
<line x1="98.1" y1="627.5" x2="101.3" y2="627.5" stroke="#333" stroke-width="1"/>
<text x="94" y="632.1" font-size="12.2" fill="#444" text-anchor="end" textLength="24.7" lengthAdjust="spacingAndGlyphs">4000</text>
<line x1="98.1" y1="553.2" x2="101.3" y2="553.2" stroke="#333" stroke-width="1"/>
<text x="94" y="557.8" font-size="12.2" fill="#444" text-anchor="end" textLength="24.7" lengthAdjust="spacingAndGlyphs">5000</text>
<text x="391.6" y="942.3" font-size="14.1" fill="#000" text-anchor="middle" textLength="118.8" lengthAdjust="spacingAndGlyphs">Relative rank by SDI</text>
<text x="64.7" y="710.5" font-size="14" fill="#000" text-anchor="middle" textLength="206.5" lengthAdjust="spacingAndGlyphs" transform="rotate(-90 64.7 710.5)">Crude incidence rate (per 100,000)</text>
<line x1="928.7" y1="489.3" x2="928.7" y2="913.5" stroke="#eeeeee" stroke-width="0.9"/>
<line x1="1068" y1="489.3" x2="1068" y2="913.5" stroke="#eeeeee" stroke-width="0.9"/>
<line x1="1207.3" y1="489.3" x2="1207.3" y2="913.5" stroke="#eeeeee" stroke-width="0.9"/>
<line x1="1346.6" y1="489.3" x2="1346.6" y2="913.5" stroke="#eeeeee" stroke-width="0.9"/>
<line x1="832.3" y1="847.8" x2="1443.8" y2="847.8" stroke="#eeeeee" stroke-width="0.9"/>
<line x1="832.3" y1="751.9" x2="1443.8" y2="751.9" stroke="#eeeeee" stroke-width="0.9"/>
<line x1="832.3" y1="655.9" x2="1443.8" y2="655.9" stroke="#eeeeee" stroke-width="0.9"/>
<line x1="832.3" y1="560" x2="1443.8" y2="560" stroke="#eeeeee" stroke-width="0.9"/>
<line x1="859" y1="489.3" x2="859" y2="913.5" stroke="#ebebeb" stroke-width="1.1"/>
<line x1="998.3" y1="489.3" x2="998.3" y2="913.5" stroke="#ebebeb" stroke-width="1.1"/>
<line x1="1137.7" y1="489.3" x2="1137.7" y2="913.5" stroke="#ebebeb" stroke-width="1.1"/>
<line x1="1277" y1="489.3" x2="1277" y2="913.5" stroke="#ebebeb" stroke-width="1.1"/>
<line x1="1416.3" y1="489.3" x2="1416.3" y2="913.5" stroke="#ebebeb" stroke-width="1.1"/>
<line x1="832.3" y1="895.8" x2="1443.8" y2="895.8" stroke="#ebebeb" stroke-width="1.1"/>
<line x1="832.3" y1="799.8" x2="1443.8" y2="799.8" stroke="#ebebeb" stroke-width="1.1"/>
<line x1="832.3" y1="703.9" x2="1443.8" y2="703.9" stroke="#ebebeb" stroke-width="1.1"/>
<line x1="832.3" y1="608" x2="1443.8" y2="608" stroke="#ebebeb" stroke-width="1.1"/>
<line x1="832.3" y1="512" x2="1443.8" y2="512" stroke="#ebebeb" stroke-width="1.1"/>
<line x1="859" y1="895.6" x2="1415.6" y2="895.6" stroke="#a0a0a0" stroke-width="1.2"/>
<line x1="1415.6" y1="511.5" x2="1415.6" y2="895.6" stroke="#a0a0a0" stroke-width="1.2"/>
<line x1="859" y1="895.8" x2="1416.3" y2="512" stroke="#d4a437" stroke-width="1.2" stroke-dasharray="4.5 4"/>
<path d="M859.2,894.8 C862.7,892.7 872.6,886.2 880.1,882.1 C887.6,878 897,874.2 904.2,870 C911.4,865.8 916.6,862.4 923.4,856.8 C930.2,851.2 937.9,843.4 945.1,836.4 C952.3,829.4 958.3,823.5 966.7,814.7 C975.1,805.9 986,793.8 995.6,783.4 C1005.2,773 1017.6,759.6 1024.4,752.2 C1031.2,744.8 1030.9,745 1036.6,739.1 C1042.3,733.2 1051.3,724.4 1058.6,717.1 C1065.9,709.8 1073.2,702.5 1080.5,695.2 C1087.8,687.9 1095.2,680 1102.5,673.2 C1109.8,666.4 1117.2,660.3 1124.5,654.2 C1131.8,648.1 1139.1,641.6 1146.4,636.6 C1153.7,631.6 1162.8,627.2 1168.4,624.2 C1174,621.2 1172.8,622.6 1180,618.8 C1187.2,615 1200.9,607.2 1211.3,601.6 C1221.7,596 1232.1,590.7 1242.5,585.2 C1252.9,579.7 1264.7,574 1273.8,568.8 C1282.9,563.6 1289.5,557.8 1297.3,553.9 C1305.1,550 1312.9,548.7 1320.7,545.3 C1328.5,541.9 1336.4,537.2 1344.2,533.6 C1352,530 1359.8,526.2 1367.6,523.5 C1375.4,520.8 1383.1,518.6 1391.1,517.2 C1399,515.8 1411.3,515.3 1415.3,514.9" fill="none" stroke="#b08080" stroke-opacity="0.45" stroke-width="6"/>
<g fill="#9a5048"><circle cx="1097.4" cy="672.2" r="2.0"/><circle cx="1106.9" cy="665.9" r="2.5"/><circle cx="1112" cy="664.4" r="2.0"/><circle cx="1128.1" cy="661.5" r="3.0"/><circle cx="1131.8" cy="660" r="2.0"/><circle cx="1141.3" cy="655.6" r="2.5"/><circle cx="1152.3" cy="651.2" r="2.0"/><circle cx="1169.8" cy="630.7" r="3.0"/><circle cx="1177.2" cy="628.6" r="2.0"/><circle cx="1181.6" cy="626.4" r="1.6"/><circle cx="1186" cy="624.2" r="1.6"/><circle cx="1107.6" cy="665.5" r="2.0"/><circle cx="1300.4" cy="550" r="1.6"/><circle cx="1309.8" cy="546.9" r="1.6"/><circle cx="1317.6" cy="543.8" r="2.0"/><circle cx="1325.4" cy="541.4" r="1.6"/><circle cx="1336.3" cy="537.5" r="2.0"/><circle cx="1345" cy="534.4" r="2.5"/><circle cx="1355.1" cy="530.5" r="2.5"/><circle cx="1361.4" cy="527.4" r="2.5"/><circle cx="1388" cy="521.1" r="3.0"/><circle cx="1398.9" cy="517.2" r="2.0"/><circle cx="1414.5" cy="515.6" r="2.5"/><circle cx="967.9" cy="819.5" r="3.0"/><circle cx="976.3" cy="814.2" r="2.0"/><circle cx="983.6" cy="811.8" r="1.6"/><circle cx="943.9" cy="835.9" r="3.0"/><circle cx="928.2" cy="844.8" r="3.0"/><circle cx="909" cy="861.6" r="2.0"/><circle cx="891" cy="872.4" r="2.0"/><circle cx="881.3" cy="878.5" r="1.6"/><circle cx="870.5" cy="885.7" r="2.0"/><circle cx="1085.7" cy="678.3" r="8.0"/><circle cx="1289" cy="556.3" r="8.1"/></g>
<path d="M859.2,894.8 C862.7,892.7 872.6,886.2 880.1,882.1 C887.6,878 897,874.2 904.2,870 C911.4,865.8 916.6,862.4 923.4,856.8 C930.2,851.2 937.9,843.4 945.1,836.4 C952.3,829.4 958.3,823.5 966.7,814.7 C975.1,805.9 986,793.8 995.6,783.4 C1005.2,773 1017.6,759.6 1024.4,752.2 C1031.2,744.8 1030.9,745 1036.6,739.1 C1042.3,733.2 1051.3,724.4 1058.6,717.1 C1065.9,709.8 1073.2,702.5 1080.5,695.2 C1087.8,687.9 1095.2,680 1102.5,673.2 C1109.8,666.4 1117.2,660.3 1124.5,654.2 C1131.8,648.1 1139.1,641.6 1146.4,636.6 C1153.7,631.6 1162.8,627.2 1168.4,624.2 C1174,621.2 1172.8,622.6 1180,618.8 C1187.2,615 1200.9,607.2 1211.3,601.6 C1221.7,596 1232.1,590.7 1242.5,585.2 C1252.9,579.7 1264.7,574 1273.8,568.8 C1282.9,563.6 1289.5,557.8 1297.3,553.9 C1305.1,550 1312.9,548.7 1320.7,545.3 C1328.5,541.9 1336.4,537.2 1344.2,533.6 C1352,530 1359.8,526.2 1367.6,523.5 C1375.4,520.8 1383.1,518.6 1391.1,517.2 C1399,515.8 1411.3,515.3 1415.3,514.9" fill="none" stroke="#a0605a" stroke-width="1.6"/>
<g fill="#1010ff"><circle cx="924.6" cy="826.7" r="1.6"/><circle cx="935.9" cy="817.8" r="2.2"/><circle cx="895.7" cy="855.1" r="2.5"/><circle cx="901.8" cy="849.6" r="1.8"/><circle cx="907.8" cy="845.5" r="1.6"/><circle cx="883.7" cy="870" r="1.6"/><circle cx="878.9" cy="873.6" r="1.6"/><circle cx="875.3" cy="878.5" r="1.6"/><circle cx="862" cy="888.1" r="1.6"/><circle cx="1035.1" cy="677.6" r="2.0"/><circle cx="1043.9" cy="671" r="2.0"/><circle cx="1046.9" cy="668.8" r="1.6"/><circle cx="1052.7" cy="665.9" r="2.0"/><circle cx="1058.6" cy="663" r="1.6"/><circle cx="1063.7" cy="660" r="1.6"/><circle cx="1208.9" cy="577.4" r="2.8"/><circle cx="1218.3" cy="573.8" r="2.0"/><circle cx="1221.4" cy="572.7" r="2.0"/><circle cx="1237.8" cy="568.8" r="2.5"/><circle cx="1247.2" cy="563.3" r="2.5"/><circle cx="1261.3" cy="554.7" r="2.0"/><circle cx="1276.9" cy="546.9" r="2.0"/><circle cx="1283.2" cy="545.3" r="1.6"/><circle cx="1298.8" cy="541.4" r="1.6"/><circle cx="1308.2" cy="538.8" r="1.6"/><circle cx="1320.7" cy="535.6" r="1.6"/><circle cx="1337.9" cy="532.1" r="2.5"/><circle cx="1343.4" cy="530.5" r="2.0"/><circle cx="1352" cy="526.6" r="2.0"/><circle cx="1358.2" cy="524.2" r="2.5"/><circle cx="1386.4" cy="516.4" r="2.5"/><circle cx="1403.6" cy="513.3" r="2.0"/><circle cx="1414.5" cy="511.3" r="2.5"/><circle cx="1027.1" cy="682.3" r="6.6"/><circle cx="1187" cy="598.5" r="7.5"/></g>
<path d="M859.2,895 C862.7,891.2 873.4,879.4 880.1,872.4 C886.8,865.4 893.4,859.6 899.4,853.2 C905.4,846.8 909.4,842.8 916.2,834 C923,825.2 933.5,809.9 940.3,800.3 C947.1,790.7 951.1,784.6 957.1,776.2 C963.1,767.8 969.9,759 976.3,749.8 C982.7,740.6 989.6,729.3 995.6,720.9 C1001.6,712.5 1007.2,705.3 1012.4,699.2 C1017.6,693.1 1023,688.1 1027,684.5 C1031,680.9 1031.3,681.2 1036.6,677.6 C1041.9,674 1050.1,668.4 1058.6,663 C1067.1,657.6 1078,650.8 1087.8,645.4 C1097.5,640 1107.3,635.6 1117.1,630.7 C1126.9,625.8 1136.6,621 1146.4,616.1 C1156.2,611.2 1168.3,605.6 1175.7,601.5 C1183.1,597.4 1185,595.1 1190.9,591.5 C1196.8,587.9 1204,583.8 1211.3,579.7 C1218.6,575.7 1226.4,571.6 1234.7,567.2 C1243,562.8 1252.2,557.2 1261.3,553.2 C1270.4,549.2 1279.5,546 1289.4,543 C1299.3,540 1311.6,537.6 1320.7,535.2 C1329.8,532.9 1336.4,530.9 1344.2,528.9 C1352,526.9 1359.8,525.6 1367.6,523.5 C1375.4,521.4 1383.1,518.4 1391.1,516.4 C1399,514.4 1411.3,512.1 1415.3,511.3" fill="none" stroke="#1515ff" stroke-width="1.6"/>
<defs><clipPath id="cD"><rect x="833" y="490" width="610" height="423"/></clipPath></defs>
<g clip-path="url(#cD)">
<g font-size="10.1" fill="#a4665e"><text x="1180.8" y="520.3">United States of America</text><text x="1185.5" y="535.6">Russian Federation</text><text x="1242.5" y="557.1">China</text><text x="1079.8" y="624.9">South Africa</text><text x="1104.7" y="652">Egypt</text><text x="1082" y="662.2">Brazil</text><text x="1047.6" y="678.3">India</text><text x="888.5" y="834.7">Zambia</text><text x="844.5" y="866">Yemen</text><text x="815.5" y="893.6">Niger</text></g>
<g font-size="10.1" fill="#2a2aff"><text x="1312.9" y="553.9">South Africa</text><text x="1253.5" y="575.8">Brazil</text><text x="1201.9" y="605.5">China</text><text x="1391.1" y="540.3">Russian Federation</text><text x="1068.5" y="673.9">Egypt</text><text x="1039.8" y="689.3">India</text><text x="946.3" y="833.5">Zambia</text><text x="894.1" y="888.1">Yemen</text><text x="875.3" y="901.3">Niger</text></g>
</g>
<rect x="1464.9" y="592.2" width="21.1" height="21.4" fill="#6f6ff4"/>
<rect x="1464.9" y="613.6" width="21.1" height="22" fill="#bb9393"/>
<line x1="1464.9" y1="604.6" x2="1486" y2="604.6" stroke="#1a1aee" stroke-width="1.4"/><circle cx="1475.4" cy="604.6" r="2" fill="#1a1aee"/>
<text x="1475.4" y="609" font-size="6.5" fill="#1a1aee" text-anchor="middle">a</text>
<line x1="1464.9" y1="626" x2="1486" y2="626" stroke="#9a5a52" stroke-width="1.4"/><circle cx="1475.4" cy="626" r="2" fill="#9a5a52"/>
<text x="1475.4" y="630.4" font-size="6.5" fill="#9a5a52" text-anchor="middle">a</text>
<circle cx="1475.2" cy="712.4" r="2.4" fill="none" stroke="#333" stroke-width="1.1"/>
<circle cx="1475.2" cy="734.4" r="3.4" fill="none" stroke="#333" stroke-width="1.1"/>
<circle cx="1475.2" cy="755.8" r="4.6" fill="none" stroke="#333" stroke-width="1.1"/>
<circle cx="1475.2" cy="778.4" r="5.8" fill="none" stroke="#333" stroke-width="1.1"/>
<circle cx="1475.2" cy="800.4" r="6.6" fill="none" stroke="#333" stroke-width="1.1"/>
<circle cx="1475.2" cy="822.4" r="7.5" fill="none" stroke="#333" stroke-width="1.1"/>
<rect x="832.3" y="489.3" width="611.5" height="424.2" fill="none" stroke="#333" stroke-width="1.3"/>
<line x1="859" y1="913.5" x2="859" y2="916.8" stroke="#333" stroke-width="1"/>
<text x="859" y="931.9" font-size="13" fill="#444" text-anchor="middle" textLength="22.4" lengthAdjust="spacingAndGlyphs">0.00</text>
<line x1="998.3" y1="913.5" x2="998.3" y2="916.8" stroke="#333" stroke-width="1"/>
<text x="998.3" y="931.9" font-size="13" fill="#444" text-anchor="middle" textLength="22.4" lengthAdjust="spacingAndGlyphs">0.25</text>
<line x1="1137.7" y1="913.5" x2="1137.7" y2="916.8" stroke="#333" stroke-width="1"/>
<text x="1137.7" y="931.9" font-size="13" fill="#444" text-anchor="middle" textLength="22.4" lengthAdjust="spacingAndGlyphs">0.50</text>
<line x1="1277" y1="913.5" x2="1277" y2="916.8" stroke="#333" stroke-width="1"/>
<text x="1277" y="931.9" font-size="13" fill="#444" text-anchor="middle" textLength="22.4" lengthAdjust="spacingAndGlyphs">0.75</text>
<line x1="1416.3" y1="913.5" x2="1416.3" y2="916.8" stroke="#333" stroke-width="1"/>
<text x="1416.3" y="931.9" font-size="13" fill="#444" text-anchor="middle" textLength="22.4" lengthAdjust="spacingAndGlyphs">1.00</text>
<line x1="827.8" y1="895.8" x2="832.3" y2="895.8" stroke="#333" stroke-width="1"/>
<text x="824.8" y="901.1" font-size="12.5" fill="#444" text-anchor="end" textLength="22.6" lengthAdjust="spacingAndGlyphs">0.00</text>
<line x1="827.8" y1="799.8" x2="832.3" y2="799.8" stroke="#333" stroke-width="1"/>
<text x="824.8" y="805.1" font-size="12.5" fill="#444" text-anchor="end" textLength="22.6" lengthAdjust="spacingAndGlyphs">0.25</text>
<line x1="827.8" y1="703.9" x2="832.3" y2="703.9" stroke="#333" stroke-width="1"/>
<text x="824.8" y="709.2" font-size="12.5" fill="#444" text-anchor="end" textLength="22.6" lengthAdjust="spacingAndGlyphs">0.50</text>
<line x1="827.8" y1="608" x2="832.3" y2="608" stroke="#333" stroke-width="1"/>
<text x="824.8" y="613.2" font-size="12.5" fill="#444" text-anchor="end" textLength="22.6" lengthAdjust="spacingAndGlyphs">0.75</text>
<line x1="827.8" y1="512" x2="832.3" y2="512" stroke="#333" stroke-width="1"/>
<text x="824.8" y="517.3" font-size="12.5" fill="#444" text-anchor="end" textLength="22.6" lengthAdjust="spacingAndGlyphs">1.00</text>
<text x="1138.2" y="947.3" font-size="14.6" fill="#000" text-anchor="middle" textLength="292.8" lengthAdjust="spacingAndGlyphs">Cumulative fraction of population ranked by SDI</text>
<text x="798" y="696" font-size="13.8" fill="#000" text-anchor="middle" textLength="204.3" lengthAdjust="spacingAndGlyphs" transform="rotate(-90 798 696)">Cumulative fraction of incidence</text>
<text x="706" y="211.3" font-size="8.7" fill="#111">year</text>
<text x="724" y="241" font-size="7.2" fill="#333">2010</text>
<text x="724" y="264.9" font-size="7.2" fill="#333">2000</text>
<text x="724" y="288.2" font-size="7.2" fill="#333">1990</text>
<text x="1452.4" y="238.6" font-size="8.7" fill="#111">trend</text>
<text x="1470.6" y="253.7" font-size="7.6" fill="#222">Decrease</text>
<text x="608.2" y="805.3" font-size="13.3" fill="#111">-2170</text>
<text x="612.2" y="833.6" font-size="13.3" fill="#111">-752</text>
<text x="662.2" y="797.2" font-size="18.3" fill="#000" text-anchor="middle" textLength="224" lengthAdjust="spacingAndGlyphs" transform="rotate(-90 662.2 797.2)">Slope Index of Inequality</text>
<text x="702.7" y="587.7" font-size="14.5" fill="#111">year</text>
<text x="730.5" y="610.8" font-size="11.7" fill="#111">1990</text>
<text x="729.5" y="631.7" font-size="11.7" fill="#111">2019</text>
<text x="702.9" y="676.8" font-size="14.5" fill="#111">Population</text>
<text x="702.9" y="690.7" font-size="14.5" fill="#111">(million)</text>
<text x="729.7" y="714.5" font-size="11.2" fill="#111">200</text>
<text x="729.7" y="735.4" font-size="11.2" fill="#111">400</text>
<text x="729.7" y="756.2" font-size="11.2" fill="#111">600</text>
<text x="729.7" y="777" font-size="11.2" fill="#111">800</text>
<text x="729.7" y="798.4" font-size="11.2" fill="#111">1000</text>
<text x="729.7" y="819.7" font-size="11.2" fill="#111">1200</text>
<text x="902.3" y="559" font-size="22" fill="#000" textLength="191.9" lengthAdjust="spacingAndGlyphs">Concentration Index</text>
<text x="931" y="596.7" font-size="21.5" fill="#1a1aff" textLength="135" lengthAdjust="spacingAndGlyphs">1990: -0.2839</text>
<text x="930" y="636.4" font-size="21.5" fill="#98504a" textLength="136" lengthAdjust="spacingAndGlyphs">2019: -0.1448</text>
<text x="1464.9" y="583.5" font-size="13.6" fill="#111" textLength="26.4" lengthAdjust="spacingAndGlyphs">year</text>
<text x="1494.3" y="608.4" font-size="11.8" fill="#111" textLength="25.5" lengthAdjust="spacingAndGlyphs">1990</text>
<text x="1494.3" y="631" font-size="11.8" fill="#111" textLength="25.5" lengthAdjust="spacingAndGlyphs">2019</text>
<text x="1464.9" y="675.8" font-size="13.8" fill="#111" textLength="63.6" lengthAdjust="spacingAndGlyphs">Population</text>
<text x="1464.9" y="693.4" font-size="13.8" fill="#111" textLength="47.5" lengthAdjust="spacingAndGlyphs">(million)</text>
<text x="1493.4" y="716.8" font-size="11.5" fill="#111">200</text>
<text x="1493.4" y="738.8" font-size="11.5" fill="#111">400</text>
<text x="1493.4" y="760.8" font-size="11.5" fill="#111">600</text>
<text x="1493.4" y="783" font-size="11.5" fill="#111">800</text>
<text x="1493.4" y="805" font-size="11.5" fill="#111">1000</text>
<text x="1493.4" y="827" font-size="11.5" fill="#111">1200</text>
</svg>
</body></html>
